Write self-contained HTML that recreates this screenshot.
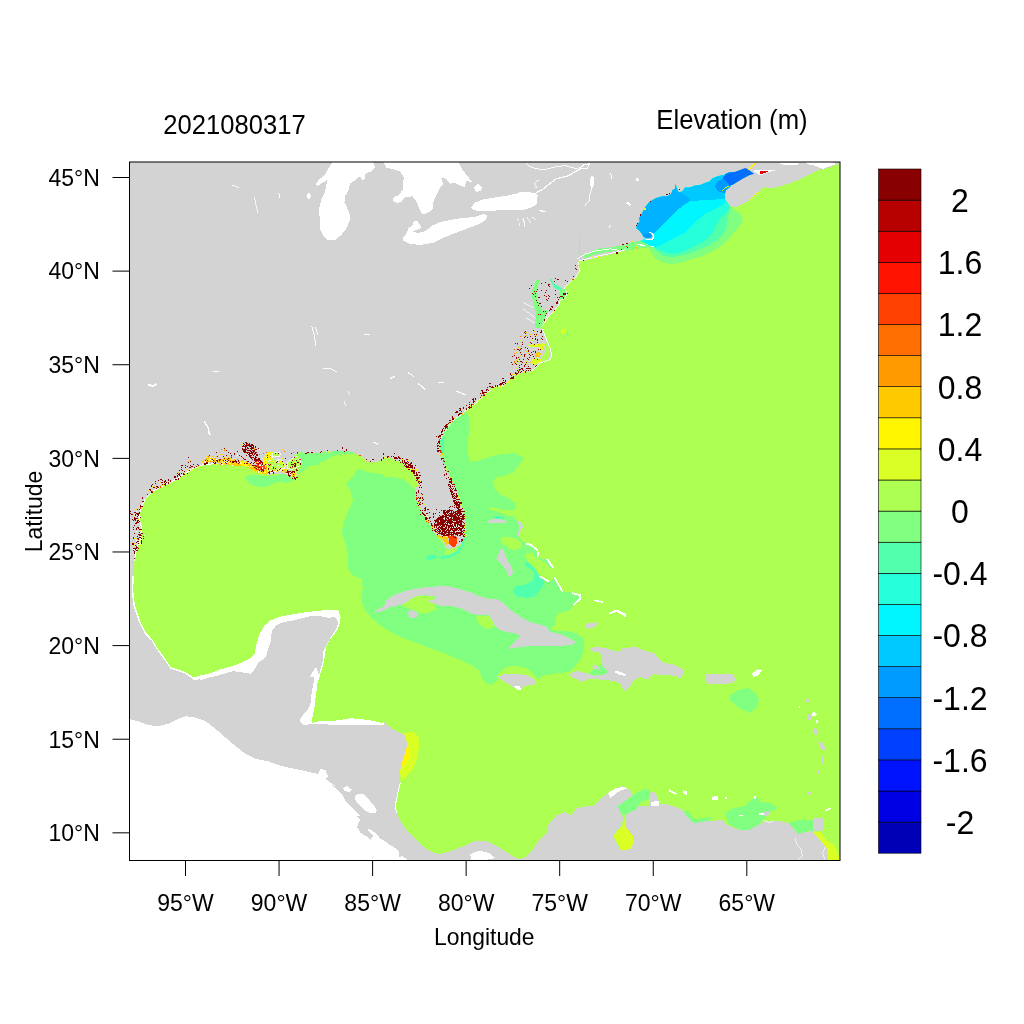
<!DOCTYPE html><html><head><meta charset="utf-8"><title>Elevation (m) 2021080317</title>
<style>html,body{margin:0;padding:0;background:#fff}svg{display:block}text{font-family:"Liberation Sans",sans-serif;fill:#000}</style></head><body>
<svg width="1024" height="1024" viewBox="0 0 1024 1024">
<rect width="1024" height="1024" fill="#fff"/>
<defs><clipPath id="cp"><rect x="129.5" y="162.0" width="710.5" height="698.5"/></clipPath></defs>
<g clip-path="url(#cp)" shape-rendering="crispEdges">
<rect x="129.5" y="162.0" width="710.5" height="698.5" fill="#D3D3D3"/>
<clipPath id="oc"><path d="M841.0 163.1L841.0 861.0L828.0 860.5L826.8 848.0L820.5 840.5L814.2 831.2L805.5 831.8L798.0 834.2L793.0 828.0L788.0 823.0L778.0 820.5L763.0 821.8L758.0 825.5L748.0 830.5L738.0 829.2L728.0 825.5L723.0 820.0L708.0 821.0L693.0 823.0L688.0 818.0L683.0 810.5L675.5 806.8L665.5 804.2L659.2 803.5L658.0 798.0L655.5 793.5L651.0 791.8L649.2 798.0L648.8 805.5L639.2 803.5L636.8 809.2L630.5 811.8L625.0 815.5L624.5 819.2L626.0 828.0L631.8 835.5L633.0 843.0L629.2 849.2L620.5 850.5L616.8 843.0L613.0 836.8L616.8 830.5L621.8 825.5L623.0 819.2L622.5 815.5L619.2 810.5L618.0 805.5L625.5 800.5L633.0 795.0L630.5 790.5L623.0 786.2L615.5 788.0L608.0 793.0L601.5 798.0L594.0 805.5L584.0 806.8L576.5 808.0L571.5 815.5L564.0 811.8L556.5 815.5L549.0 823.0L546.5 833.0L539.0 840.5L534.0 848.0L526.5 856.8L519.0 859.2L511.5 855.5L504.0 850.5L494.0 844.2L484.0 840.5L476.5 840.5L469.0 844.2L459.0 848.0L449.0 851.8L439.0 854.2L429.0 850.5L419.0 843.0L409.0 833.0L401.5 823.0L396.5 813.0L395.2 805.5L397.8 793.0L400.2 783.0L400.2 770.5L402.8 760.5L406.5 753.0L407.8 743.0L405.2 735.5L399.0 731.8L391.5 728.0L384.0 721.8L382.0 723.1L374.2 721.1L362.5 719.2L350.8 718.2L339.1 720.2L329.3 721.1L319.5 721.1L311.7 723.1L312.7 716.2L314.6 706.5L315.6 696.7L316.4 700.0L316.4 692.2L317.2 684.4L319.5 676.6L321.9 668.8L324.2 660.9L325.0 654.7L325.8 648.4L328.1 642.2L332.8 635.9L337.5 629.7L339.8 623.4L340.6 617.2L338.3 610.2L331.2 610.2L318.8 610.6L306.2 612.2L293.8 614.1L281.2 616.4L270.3 620.3L264.1 625.8L259.4 634.4L256.2 645.3L254.7 653.9L250.0 658.6L242.2 662.5L231.2 666.4L220.3 669.5L209.4 673.4L200.0 675.8L203.0 676.2L193.0 677.5L185.5 672.5L178.0 670.0L170.5 667.5L165.5 660.0L158.0 650.0L151.8 640.0L145.5 633.5L139.2 621.0L134.2 606.0L132.5 591.0L133.0 576.0L134.2 561.0L136.8 548.5L140.5 538.5L141.8 528.5L139.2 518.5L140.5 508.5L145.5 498.5L153.0 491.0L163.0 486.0L173.0 481.0L183.0 474.8L193.0 468.5L203.0 464.8L215.5 463.5L228.0 464.8L238.0 464.8L248.0 466.0L258.0 472.2L268.0 474.8L283.0 473.5L290.5 477.2L298.0 474.8L290.5 469.8L295.5 467.2L300.5 463.5L300.5 458.5L293.0 456.0L300.5 452.2L308.0 453.5L318.0 453.5L328.0 452.2L340.5 451.0L353.0 452.2L363.0 457.2L368.0 462.2L375.5 462.2L384.0 459.8L384.0 458.2L389.0 457.0L396.5 460.8L400.0 461.2L405.0 463.8L408.8 467.5L412.5 472.5L416.2 477.5L417.5 482.5L416.2 488.8L414.4 493.8L415.0 498.8L417.5 505.0L420.0 510.0L423.8 516.2L425.0 521.2L428.8 523.8L431.2 527.5L433.8 532.5L437.5 536.2L442.5 540.0L444.4 545.0L446.2 548.1L450.0 548.8L455.0 548.1L458.8 546.2L461.2 542.5L463.8 537.5L464.4 532.5L465.0 525.0L464.4 516.2L462.5 508.8L460.0 501.2L457.5 493.8L455.0 486.2L451.2 478.8L447.5 471.2L444.4 462.5L441.9 455.0L440.0 447.5L438.8 440.0L440.2 439.5L444.0 432.0L449.0 424.5L456.5 417.0L464.0 412.0L471.5 405.8L479.0 399.5L486.5 392.0L494.0 387.0L504.0 385.8L506.5 383.2L514.0 375.8L519.5 373.4L525.8 372.3L531.2 371.1L535.9 367.2L540.6 362.5L545.3 361.3L548.4 360.2L550.8 357.8L551.3 354.7L550.8 350.0L548.8 345.3L546.9 340.6L544.5 334.4L542.2 328.9L541.2 327.3L543.8 323.4L547.5 317.8L553.1 312.1L558.8 304.6L560.6 299.9L565.3 298.1L567.2 293.4L564.4 287.8L570.0 282.1L575.6 277.4L579.4 270.9L578.4 261.5L585.0 260.6L596.3 257.8L607.5 254.9L618.8 252.1L630.0 249.3L641.3 245.6L620.0 246.2L625.0 245.0L631.2 242.5L638.8 241.2L642.5 240.0L645.0 238.8L654.0 239.0L654.2 235.0L651.9 232.2L649.0 232.0L651.0 234.0L652.2 236.5L650.6 237.8L645.6 238.0L643.1 236.5L641.9 234.0L640.0 231.2L636.2 228.1L637.5 223.8L640.0 221.2L638.8 218.8L642.5 212.5L645.0 207.5L648.8 202.5L652.5 200.0L657.5 197.5L662.5 196.2L667.5 196.2L671.2 193.8L672.5 190.0L675.0 188.8L675.6 183.8L676.9 188.8L678.8 192.5L682.5 191.2L685.0 187.5L690.0 187.5L695.0 185.6L700.0 185.0L705.0 183.1L710.0 181.2L711.9 178.8L717.5 176.2L723.8 175.0L728.8 172.5L735.0 171.9L740.0 170.0L745.0 168.1L747.8 169.1L750.9 171.4L754.1 173.8L749.4 175.3L743.1 178.4L736.9 182.3L730.6 186.2L725.9 190.2L724.7 194.8L725.9 200.3L729.1 205.0L733.8 207.3L736.9 206.6L743.1 203.4L749.4 200.3L754.1 196.4L758.8 192.5L761.9 188.6L766.6 187.0L771.2 188.6L777.5 187.0L783.8 185.5L790.0 183.1L796.2 180.8L802.5 177.7L808.8 174.5L815.0 172.2L819.7 169.1L822.8 169.8L829.1 167.5L835.3 165.2L840.0 163.1Z"/></clipPath>
<g fill="#FFFFFF"><path d="M333.8 160.0L327.5 170.0L325.0 175.0L320.0 178.8L315.5 183.8L317.0 186.2L323.8 182.0L327.5 179.5L326.2 185.0L325.0 192.5L321.2 200.0L318.8 210.0L320.0 220.0L320.5 230.0L323.8 237.0L328.8 240.5L335.0 240.0L341.2 235.0L346.2 228.8L349.5 221.2L349.5 213.8L347.0 207.5L344.5 202.5L345.0 196.2L348.8 190.0L350.0 183.8L356.2 179.5L360.0 176.2L362.0 180.0L364.5 179.5L365.5 173.8L371.2 171.2L375.0 167.5L372.5 160.0Z"/><path d="M382.5 160.0L386.2 167.5L400.0 171.2L403.8 177.5L402.5 190.0L398.8 195.0L393.8 197.0L392.5 200.0L396.2 203.0L401.2 202.0L405.0 197.5L412.5 196.2L416.2 201.2L420.0 210.0L422.0 214.5L427.5 213.0L432.5 209.5L433.8 200.0L438.8 190.0L443.0 183.8L441.2 177.5L446.2 178.8L450.0 183.8L453.8 182.5L458.8 185.0L465.0 187.0L466.2 181.2L472.5 182.0L467.5 176.2L462.5 170.0L457.5 160.0Z"/><path d="M402.5 238.8L406.2 233.8L408.8 227.5L412.5 225.5L413.8 221.2L417.5 221.2L420.0 224.5L421.2 228.0L417.5 230.0L412.5 231.2L417.5 233.0L425.0 231.2L432.5 225.5L440.0 222.0L450.0 220.0L462.5 218.0L475.0 217.0L483.8 213.8L487.0 215.5L486.2 219.5L480.0 223.8L470.0 227.5L460.0 231.2L450.0 235.0L440.0 239.5L432.5 243.0L420.0 245.0L410.0 243.8L402.5 240.0Z"/><path d="M471.2 207.5L475.0 202.5L482.5 199.5L495.0 197.5L507.5 195.5L520.0 193.0L530.0 192.5L536.2 194.5L537.0 200.0L536.2 205.0L530.0 208.0L520.0 209.5L510.0 210.0L500.0 210.0L490.0 211.2L480.0 211.2L473.8 210.0Z"/><path d="M473.8 187.5L478.0 183.8L482.0 187.0L481.2 190.5L476.2 192.0Z"/><path d="M307.0 193.8L309.5 192.5L311.0 196.2L309.0 199.5L307.0 197.5Z"/></g>
<g fill="#FFFFFF"><path d="M128.0 718.8L138.0 721.2L148.0 725.0L158.0 726.2L168.0 723.8L178.0 718.8L185.5 716.2L195.5 717.5L205.5 721.2L215.5 728.8L225.5 737.5L235.5 746.2L245.5 753.8L255.5 758.8L268.0 761.2L278.0 765.0L288.0 767.5L300.5 770.0L310.5 772.5L318.0 773.8L320.5 768.8L325.5 770.0L328.0 776.2L325.5 778.8L335.5 786.2L330.0 784.4L336.2 788.3L341.7 793.8L344.8 800.0L350.3 806.2L355.8 811.7L359.7 815.6L356.6 816.4L360.5 819.5L358.1 823.4L357.3 827.3L360.5 832.8L365.9 835.9L370.6 839.8L373.0 835.9L369.1 832.0L367.5 828.1L372.2 830.5L376.9 834.4L380.0 838.3L383.9 840.6L389.4 844.5L395.6 848.4L399.5 852.3L398.8 857.0L401.9 856.2L406.6 858.6L408.1 862.5L100.0 862.0L100.0 718.0Z"/><path d="M470.2 854.2L479.0 850.5L489.0 853.0L495.2 858.0L484.0 860.5L471.5 860.5Z"/><path d="M355.0 796.1L358.9 793.4L363.6 794.5L369.1 800.0L374.5 806.2L376.9 810.9L375.3 813.3L369.8 813.3L363.6 809.4L358.1 803.9L355.3 800.0Z"/><path d="M342.5 788.3L347.2 786.2L351.9 789.8L348.8 792.2L344.8 790.9Z"/></g>
<g fill="#FFFFFF"><path d="M200.0 668.8L246.9 651.6L253.1 623.4L278.1 609.4L340.6 604.7L348.4 631.2L329.7 662.5L325.0 700.0L310.9 700.0L311.7 692.2L313.3 684.4L314.1 677.3L310.2 676.6L312.5 671.9L316.4 667.2L318.8 675.0L321.1 667.2L323.4 659.4L323.4 651.6L325.8 646.9L328.9 640.6L332.8 634.4L336.7 628.1L338.3 621.9L334.4 616.4L329.7 618.0L321.9 616.4L312.5 615.6L303.1 618.0L293.8 620.3L284.4 621.9L276.6 625.0L272.7 629.7L271.1 635.9L270.3 643.8L267.2 650.0L266.4 656.2L260.9 659.4L253.1 664.1L248.4 668.0L253.1 667.2L254.7 670.3L251.6 673.4L245.3 673.4L240.6 671.9L231.2 671.1L220.3 673.4L209.4 677.3L200.0 680.5Z"/><path d="M270.5 640.0L268.0 650.0L265.5 657.5L258.0 662.5L255.5 667.5L250.5 673.8L243.0 672.5L240.5 669.5L228.0 672.5L215.5 676.2L203.0 678.8L194.2 680.0L185.5 673.8L178.0 671.2L170.5 668.8L165.5 661.2L158.0 651.2L151.8 641.2L178.0 640.0Z"/><path d="M311.8 699.0L309.2 707.5L303.0 715.0L299.2 721.2L303.0 725.0L311.8 724.2L328.0 724.5L348.0 725.0L365.5 724.5L384.0 725.0L384.0 715.0L328.0 690.0Z"/></g>
<g fill="#ADFF52"><path d="M841.0 163.1L841.0 861.0L828.0 860.5L826.8 848.0L820.5 840.5L814.2 831.2L805.5 831.8L798.0 834.2L793.0 828.0L788.0 823.0L778.0 820.5L763.0 821.8L758.0 825.5L748.0 830.5L738.0 829.2L728.0 825.5L723.0 820.0L708.0 821.0L693.0 823.0L688.0 818.0L683.0 810.5L675.5 806.8L665.5 804.2L659.2 803.5L658.0 798.0L655.5 793.5L651.0 791.8L649.2 798.0L648.8 805.5L639.2 803.5L636.8 809.2L630.5 811.8L625.0 815.5L624.5 819.2L626.0 828.0L631.8 835.5L633.0 843.0L629.2 849.2L620.5 850.5L616.8 843.0L613.0 836.8L616.8 830.5L621.8 825.5L623.0 819.2L622.5 815.5L619.2 810.5L618.0 805.5L625.5 800.5L633.0 795.0L630.5 790.5L623.0 786.2L615.5 788.0L608.0 793.0L601.5 798.0L594.0 805.5L584.0 806.8L576.5 808.0L571.5 815.5L564.0 811.8L556.5 815.5L549.0 823.0L546.5 833.0L539.0 840.5L534.0 848.0L526.5 856.8L519.0 859.2L511.5 855.5L504.0 850.5L494.0 844.2L484.0 840.5L476.5 840.5L469.0 844.2L459.0 848.0L449.0 851.8L439.0 854.2L429.0 850.5L419.0 843.0L409.0 833.0L401.5 823.0L396.5 813.0L395.2 805.5L397.8 793.0L400.2 783.0L400.2 770.5L402.8 760.5L406.5 753.0L407.8 743.0L405.2 735.5L399.0 731.8L391.5 728.0L384.0 721.8L382.0 723.1L374.2 721.1L362.5 719.2L350.8 718.2L339.1 720.2L329.3 721.1L319.5 721.1L311.7 723.1L312.7 716.2L314.6 706.5L315.6 696.7L316.4 700.0L316.4 692.2L317.2 684.4L319.5 676.6L321.9 668.8L324.2 660.9L325.0 654.7L325.8 648.4L328.1 642.2L332.8 635.9L337.5 629.7L339.8 623.4L340.6 617.2L338.3 610.2L331.2 610.2L318.8 610.6L306.2 612.2L293.8 614.1L281.2 616.4L270.3 620.3L264.1 625.8L259.4 634.4L256.2 645.3L254.7 653.9L250.0 658.6L242.2 662.5L231.2 666.4L220.3 669.5L209.4 673.4L200.0 675.8L203.0 676.2L193.0 677.5L185.5 672.5L178.0 670.0L170.5 667.5L165.5 660.0L158.0 650.0L151.8 640.0L145.5 633.5L139.2 621.0L134.2 606.0L132.5 591.0L133.0 576.0L134.2 561.0L136.8 548.5L140.5 538.5L141.8 528.5L139.2 518.5L140.5 508.5L145.5 498.5L153.0 491.0L163.0 486.0L173.0 481.0L183.0 474.8L193.0 468.5L203.0 464.8L215.5 463.5L228.0 464.8L238.0 464.8L248.0 466.0L258.0 472.2L268.0 474.8L283.0 473.5L290.5 477.2L298.0 474.8L290.5 469.8L295.5 467.2L300.5 463.5L300.5 458.5L293.0 456.0L300.5 452.2L308.0 453.5L318.0 453.5L328.0 452.2L340.5 451.0L353.0 452.2L363.0 457.2L368.0 462.2L375.5 462.2L384.0 459.8L384.0 458.2L389.0 457.0L396.5 460.8L400.0 461.2L405.0 463.8L408.8 467.5L412.5 472.5L416.2 477.5L417.5 482.5L416.2 488.8L414.4 493.8L415.0 498.8L417.5 505.0L420.0 510.0L423.8 516.2L425.0 521.2L428.8 523.8L431.2 527.5L433.8 532.5L437.5 536.2L442.5 540.0L444.4 545.0L446.2 548.1L450.0 548.8L455.0 548.1L458.8 546.2L461.2 542.5L463.8 537.5L464.4 532.5L465.0 525.0L464.4 516.2L462.5 508.8L460.0 501.2L457.5 493.8L455.0 486.2L451.2 478.8L447.5 471.2L444.4 462.5L441.9 455.0L440.0 447.5L438.8 440.0L440.2 439.5L444.0 432.0L449.0 424.5L456.5 417.0L464.0 412.0L471.5 405.8L479.0 399.5L486.5 392.0L494.0 387.0L504.0 385.8L506.5 383.2L514.0 375.8L519.5 373.4L525.8 372.3L531.2 371.1L535.9 367.2L540.6 362.5L545.3 361.3L548.4 360.2L550.8 357.8L551.3 354.7L550.8 350.0L548.8 345.3L546.9 340.6L544.5 334.4L542.2 328.9L541.2 327.3L543.8 323.4L547.5 317.8L553.1 312.1L558.8 304.6L560.6 299.9L565.3 298.1L567.2 293.4L564.4 287.8L570.0 282.1L575.6 277.4L579.4 270.9L578.4 261.5L585.0 260.6L596.3 257.8L607.5 254.9L618.8 252.1L630.0 249.3L641.3 245.6L620.0 246.2L625.0 245.0L631.2 242.5L638.8 241.2L642.5 240.0L645.0 238.8L654.0 239.0L654.2 235.0L651.9 232.2L649.0 232.0L651.0 234.0L652.2 236.5L650.6 237.8L645.6 238.0L643.1 236.5L641.9 234.0L640.0 231.2L636.2 228.1L637.5 223.8L640.0 221.2L638.8 218.8L642.5 212.5L645.0 207.5L648.8 202.5L652.5 200.0L657.5 197.5L662.5 196.2L667.5 196.2L671.2 193.8L672.5 190.0L675.0 188.8L675.6 183.8L676.9 188.8L678.8 192.5L682.5 191.2L685.0 187.5L690.0 187.5L695.0 185.6L700.0 185.0L705.0 183.1L710.0 181.2L711.9 178.8L717.5 176.2L723.8 175.0L728.8 172.5L735.0 171.9L740.0 170.0L745.0 168.1L747.8 169.1L750.9 171.4L754.1 173.8L749.4 175.3L743.1 178.4L736.9 182.3L730.6 186.2L725.9 190.2L724.7 194.8L725.9 200.3L729.1 205.0L733.8 207.3L736.9 206.6L743.1 203.4L749.4 200.3L754.1 196.4L758.8 192.5L761.9 188.6L766.6 187.0L771.2 188.6L777.5 187.0L783.8 185.5L790.0 183.1L796.2 180.8L802.5 177.7L808.8 174.5L815.0 172.2L819.7 169.1L822.8 169.8L829.1 167.5L835.3 165.2L840.0 163.1Z"/></g>
<g fill="#80FF80"><path d="M300.5 452.2L300.5 457.2L308.0 463.5L323.0 462.2L333.0 456.0L345.5 453.5L354.2 453.5L353.0 451.8L340.5 450.5L328.0 451.8L318.0 453.0L308.0 453.0Z"/><path d="M358.0 468.5L353.0 476.0L345.5 483.5L350.5 491.0L353.0 501.0L348.0 511.0L343.0 523.5L341.8 533.5L345.5 543.5L348.0 556.0L348.0 568.5L353.0 576.0L361.8 578.5L363.0 591.0L362.5 589.3L361.5 601.0L365.4 610.8L372.3 618.6L382.0 626.4L391.8 632.3L403.5 638.1L417.2 643.0L428.9 647.9L440.6 651.8L452.3 656.7L464.1 661.6L473.8 666.4L479.7 671.3L482.6 679.1L487.5 684.0L495.3 685.0L491.5 684.2L497.8 680.5L496.5 675.5L504.0 668.0L514.0 665.5L526.5 668.0L534.0 674.2L537.8 679.2L544.0 675.5L559.0 673.0L570.2 671.8L581.5 658.0L584.0 648.0L581.5 638.0L576.5 633.0L564.0 630.5L554.0 630.5L583.3 650.0L584.1 643.9L582.5 636.9L576.2 640.0L570.0 636.1L563.8 633.0L554.4 630.6L549.7 629.1L554.4 625.9L555.2 619.7L557.5 613.4L563.8 611.9L570.0 610.3L573.1 605.6L576.2 603.3L580.9 599.4L581.7 594.7L576.2 593.1L570.0 592.3L563.8 591.6L560.6 586.9L557.5 582.2L554.4 577.5L549.7 581.4L546.6 580.6L540.3 576.7L535.6 571.2L530.9 565.0L527.0 560.3L525.5 555.6L527.8 552.5L532.5 553.3L535.6 557.2L541.9 560.3L546.6 564.2L549.7 568.1L554.4 568.1L551.2 563.4L548.1 559.5L543.4 558.8L537.2 558.0L538.8 554.1L537.2 548.6L530.9 543.9L526.2 543.1L521.6 540.0L518.4 536.1L520.0 532.2L523.1 525.9L521.6 522.0L516.9 520.5L513.8 516.6L505.9 515.0L498.1 511.9L490.3 509.5L488.8 506.4L493.4 507.2L501.2 509.5L509.1 510.3L514.5 509.5L514.5 503.3L509.1 498.6L501.2 494.7L495.8 490.0L515.2 508.2L514.0 502.0L509.0 499.5L501.5 495.8L495.2 489.5L492.8 482.0L496.5 477.0L504.0 475.8L514.0 472.0L520.2 463.2L524.0 458.2L520.2 455.8L514.0 453.2L501.5 454.0L489.0 457.0L477.8 460.8L470.2 462.0L467.8 452.0L467.8 439.5L470.2 427.0L469.0 417.0L464.0 412.0L456.5 417.0L449.0 424.5L444.0 432.0L440.2 439.5L440.2 449.5L442.8 459.5L446.5 469.5L451.5 479.5L455.2 487.0L459.0 497.0L462.8 507.0L465.2 517.0L465.2 527.0L464.0 537.0L461.5 544.5L456.5 548.2L446.5 549.5L444.0 544.5L437.8 538.2L434.0 532.0L430.2 524.5L425.2 518.2L421.5 512.0L417.8 504.5L415.2 497.0L416.0 490.8L412.8 487.0L404.0 479.5L394.0 477.0L384.0 477.0L384.0 474.8L378.0 473.5L368.0 472.2L358.0 468.5Z"/></g>
<g fill="#ADFF52"><path d="M401.6 605.9L409.4 600.0L415.2 596.1L425.0 595.5L434.4 596.7L434.4 599.1L427.3 601.0L434.8 604.5L436.7 608.8L428.9 612.7L421.1 613.7L417.2 611.8L411.3 608.8L405.5 606.9Z"/><path d="M475.8 616.6L487.5 615.7L493.4 620.5L494.3 627.4L487.5 629.3L480.7 625.4L476.8 620.5Z"/><path d="M475.2 616.8L489.0 615.5L494.0 623.0L491.5 628.0L484.0 625.5L477.8 620.5Z"/><path d="M501.2 536.9L510.6 536.9L520.0 540.0L521.6 547.8L513.8 550.2L505.9 546.2L501.2 543.1Z"/><path d="M638.0 805.5L643.0 801.0L649.2 800.0L648.8 805.5Z"/></g>
<g fill="#52FFAD"><path d="M513.0 590.0L516.9 586.1L524.7 584.5L530.9 582.2L534.1 577.5L534.1 572.8L529.4 568.1L524.7 565.8L525.5 561.9L530.2 563.4L535.6 569.7L540.3 576.7L544.2 580.6L543.4 585.3L538.8 591.6L534.1 597.0L526.2 597.8L518.4 597.0L513.8 593.9Z"/><path d="M494.2 516.9L499.7 515.8L505.9 518.1L501.2 519.4L495.0 519.1Z"/></g>
<g fill="#D3D3D3"><path d="M374.2 610.8L378.1 608.8L384.0 606.9L385.9 601.0L391.8 596.1L401.6 592.2L413.3 589.3L425.0 587.3L436.7 586.4L448.4 586.4L460.2 589.3L469.9 592.2L479.7 596.1L489.5 599.1L496.6 599.4L502.8 602.5L509.1 608.8L515.3 613.4L521.6 617.3L527.8 621.2L535.6 623.6L543.4 625.2L548.1 627.5L548.9 631.4L555.2 633.0L563.8 635.3L571.6 639.2L576.2 641.6L573.1 644.7L565.3 645.5L557.5 646.2L548.1 646.2L538.8 645.5L529.4 646.2L520.0 647.0L510.6 648.6L509.1 647.8L515.3 641.6L520.8 636.1L515.3 633.0L507.5 632.2L501.2 630.6L495.0 625.9L491.9 619.7L488.8 615.0L479.4 615.0L470.0 613.4L468.0 611.8L460.2 607.9L450.4 605.9L440.6 605.9L434.8 603.9L427.0 601.0L434.8 599.1L434.8 596.1L425.0 595.2L415.2 596.1L409.4 600.0L403.5 603.9L395.7 605.9L387.9 607.9L382.0 610.8L377.1 612.3Z"/><path d="M589.7 649.8L593.6 647.5L600.6 647.2L606.9 648.3L613.1 650.6L620.2 651.4L622.5 648.3L628.8 647.5L636.6 647.2L642.8 649.8L649.1 652.2L654.5 653.0L657.7 657.7L661.6 661.6L667.8 663.9L674.1 664.7L678.8 667.0L682.7 669.4L684.7 672.2L681.9 676.4L679.5 678.8L676.4 676.4L669.4 674.8L661.6 674.8L653.8 674.1L649.1 678.8L644.4 679.5L641.2 676.4L636.6 678.8L632.7 681.9L629.5 687.3L624.8 691.2L622.5 688.1L620.2 683.4L614.7 681.1L606.9 680.3L599.1 679.5L591.2 678.8L585.0 680.3L581.1 681.9L577.2 679.5L571.7 677.2L569.7 674.8L572.5 671.7L578.8 671.2L586.6 673.3L594.4 675.6L602.2 674.8L608.4 672.5L605.3 669.4L602.2 664.7L601.4 660.0L602.2 655.3L598.3 652.2L592.8 651.4Z"/><path d="M497.8 676.8L504.0 674.2L516.5 673.5L526.5 675.5L534.0 679.2L536.5 683.0L531.5 685.0L524.0 686.0L520.2 690.0L514.0 688.0L509.0 684.2L502.8 680.5Z"/><path d="M705.5 674.2L718.0 673.5L733.0 674.2L735.5 679.2L733.0 683.0L720.5 684.2L708.0 684.2L705.0 679.2Z"/><path d="M500.5 549.4L503.6 549.1L505.2 555.6L508.3 561.9L511.4 566.6L513.0 572.0L511.4 575.6L508.3 575.6L506.7 571.2L503.6 566.6L499.7 561.9L495.8 558.8L498.1 554.8Z"/><path d="M584.8 625.2L588.8 623.1L595.0 622.5L597.3 621.2L596.9 625.2L593.4 627.5L587.2 628.8Z"/><path d="M407.4 612.7L411.3 609.8L416.2 611.2L418.2 615.7L414.3 618.2L409.4 617.6Z"/><path d="M813.0 818.5L823.0 817.5L822.5 830.5L814.2 831.2Z"/><path d="M650.0 793.0L654.2 791.8L657.5 798.0L658.8 803.5L649.2 805.5L648.8 799.2Z"/><path d="M592.0 666.2L595.2 665.3L600.3 667.8L599.1 669.7L594.4 669.1Z"/><path d="M516.9 520.5L521.6 522.0L523.1 526.7L520.0 532.2L518.4 536.1L516.9 534.5L518.8 529.1L518.8 524.7Z"/><path d="M487.2 521.2L493.4 518.9L501.2 519.4L506.7 520.8L505.9 522.8L498.1 522.5L491.9 523.6L488.0 523.1Z"/></g>
<g fill="#FFFFFF"><path d="M751.8 673.5L758.0 669.2L761.8 670.5L758.0 676.0L753.0 676.8Z"/><path d="M514.0 686.0L520.2 686.0L521.0 690.0L517.8 690.5Z"/><path d="M525.5 542.3L530.9 543.9L538.0 549.1L539.1 555.6L537.5 558.0L536.9 551.7L531.7 546.6L526.2 544.7Z"/><path d="M545.8 558.4L548.1 558.8L554.4 567.8L552.0 568.1Z"/><path d="M553.6 577.5L555.2 577.2L563.4 591.2L561.9 591.9Z"/><path d="M538.8 576.7L540.6 575.9L550.0 580.9L548.1 582.2Z"/><path d="M572.3 592.3L581.2 594.4L581.2 599.4L573.9 605.3L573.1 604.1L579.4 598.6L579.4 595.9L572.3 593.9Z"/><path d="M594.2 599.7L602.8 601.2L602.5 602.8L594.2 601.2Z"/><path d="M609.1 612.7L616.9 609.5L626.2 614.2L625.5 617.3L616.9 611.9L609.8 614.2Z"/><path d="M711.8 796.8L717.5 796.0L717.5 800.0L711.8 800.0Z"/><path d="M669.2 789.2L676.8 793.5L675.5 795.0L668.5 791.0Z"/><path d="M683.0 790.0L687.5 791.8L686.8 795.0L683.5 793.0Z"/><path d="M650.5 801.8L658.8 801.0L659.2 805.5L650.5 806.0Z"/><path d="M608.0 793.0L615.5 788.5L623.0 786.8L626.8 788.5L618.0 791.8L610.5 798.0Z"/><path d="M804.1 161.2L830.6 161.2L836.1 164.1L829.1 166.4L822.8 168.8L819.7 168.0L815.0 165.6L808.8 164.7Z"/><path d="M777.5 162.5L799.4 162.5L797.8 164.7L783.8 164.7Z"/></g>
<g fill="#80FF80"><path d="M729.2 695.5L738.0 690.5L748.0 688.0L755.5 693.0L759.2 699.2L756.8 706.8L750.5 712.5L743.0 710.5L735.5 705.5L730.5 700.5Z"/><path d="M618.0 805.5L625.5 800.5L633.0 795.5L638.0 791.8L645.5 788.0L650.5 791.8L649.2 799.2L643.0 801.0L638.0 805.5L636.8 809.2L630.5 811.8L623.0 815.5L619.2 810.5Z"/><path d="M725.5 813.0L733.0 808.0L743.0 806.8L750.5 800.5L755.5 795.5L760.5 801.8L770.5 803.0L778.0 808.0L770.5 811.8L763.0 820.5L758.0 825.5L748.0 830.5L738.0 829.2L728.0 824.2Z"/><path d="M683.0 810.5L688.0 818.0L693.0 823.0L708.0 821.0L713.0 816.8L703.0 818.0L694.2 819.2L689.2 811.8Z"/><path d="M788.0 823.0L798.0 820.5L813.0 820.0L813.5 830.5L805.5 831.8L798.0 834.2L793.0 828.0Z"/><path d="M620.0 246.2L625.0 245.0L631.2 242.5L638.8 241.2L642.5 240.0L645.0 245.0L643.8 247.5L635.0 249.4L627.5 250.6L620.0 250.0Z"/><path d="M536.3 328.1L540.9 328.1L541.9 321.5L542.8 312.1L540.9 306.5L537.2 299.0L536.3 291.5L538.1 285.9L540.0 280.3L536.3 280.3L533.4 286.8L531.6 292.4L532.5 299.0L534.4 306.5L536.3 314.0L535.3 321.5Z"/><path d="M582.2 255.9L592.5 250.6L600.0 248.0L611.3 247.4L628.1 244.3L639.4 241.8L643.1 243.7L639.4 248.0L630.0 249.3L628.1 247.4L618.8 250.3L607.5 252.1L592.5 254.9L585.0 258.7Z"/><path d="M560.6 299.9L565.3 298.1L567.2 293.4L564.4 288.7L560.6 289.6L558.8 294.3Z"/></g>
<g fill="#52FFAD"><path d="M560.6 290.0L555.0 288.7L551.3 283.1L549.0 278.0L551.3 278.8L554.1 284.0L559.7 286.8L562.5 288.7Z"/></g>
<g fill="#DAFF25"><path d="M404.0 733.0L412.8 731.8L419.0 738.0L419.0 748.0L416.5 760.5L411.5 770.5L405.2 778.0L401.0 781.8L400.2 770.5L402.8 760.5L406.5 750.5L406.5 740.5Z"/><path d="M624.0 819.2L626.5 828.0L632.8 835.5L634.0 843.0L630.2 849.2L621.5 850.5L617.8 843.0L614.0 836.8L617.8 830.5L622.8 825.5Z"/><path d="M811.8 831.8L820.5 831.8L825.5 839.2L833.0 844.2L838.0 851.8L839.2 860.5L828.0 860.5L826.8 848.0L820.5 840.5L815.5 835.5Z"/></g>
<g fill="#FFF600"><path d="M407.0 744.2L410.2 750.5L409.0 758.0L405.2 764.2L401.0 768.0L402.8 759.2L406.0 751.8Z"/></g>
<g fill="#80FF80" clip-path="url(#oc)"><path d="M637.5 247.5L648.8 248.1L651.2 252.5L656.2 258.8L663.8 263.1L671.2 264.0L680.0 263.1L688.8 260.0L697.5 257.5L705.0 255.0L715.0 250.0L722.5 245.0L730.0 237.5L736.2 230.0L741.2 223.8L743.1 218.8L741.2 215.0L736.2 211.2L732.5 208.1L728.8 203.8L725.0 198.8L742.5 160.0L630.0 160.0L617.5 230.0Z"/></g>
<g fill="#52FFAD" clip-path="url(#oc)"><path d="M653.8 246.9L656.2 250.0L661.2 255.0L668.8 256.9L676.2 256.5L683.8 255.0L692.5 252.5L701.2 248.8L710.0 245.0L717.5 240.0L723.8 233.8L726.2 227.5L727.5 220.0L728.8 213.8L730.0 206.9L728.8 203.8L725.0 198.8L742.5 160.0L630.0 160.0L617.5 230.0L642.5 242.5Z"/></g>
<g fill="#25FFDA" clip-path="url(#oc)"><path d="M648.8 245.0L653.8 246.9L658.8 250.0L666.2 252.5L672.5 253.8L680.0 252.5L687.5 250.0L695.0 246.2L702.5 242.5L708.8 237.5L713.8 231.2L716.2 225.0L720.0 218.8L725.0 213.8L728.8 210.0L730.0 206.2L728.8 203.8L725.0 198.8L742.5 160.0L630.0 160.0L617.5 230.0L642.5 242.5Z"/></g>
<g fill="#00F6FF" clip-path="url(#oc)"><path d="M645.0 242.5L648.8 245.0L653.8 246.9L658.8 246.2L663.8 243.8L670.0 240.0L677.5 236.2L685.0 232.5L691.2 226.2L697.5 220.0L705.0 213.8L712.5 210.0L717.5 207.5L722.5 205.0L726.2 201.9L724.4 199.0L742.5 160.0L630.0 160.0L617.5 230.0L642.5 240.0Z"/></g>
<g fill="#00B2FF" clip-path="url(#oc)"><path d="M642.5 238.8L654.4 240.0L654.4 236.9L653.1 235.0L658.8 228.8L665.0 222.5L671.2 216.2L677.5 210.0L683.8 205.0L690.0 201.2L690.0 198.8L680.0 191.9L667.5 167.5L630.0 167.5L617.5 230.0Z"/></g>
<g fill="#00C9FF" clip-path="url(#oc)"><path d="M680.0 191.9L690.0 198.8L690.0 201.2L697.5 200.6L707.5 200.0L717.5 199.4L724.4 199.0L742.5 160.0L667.5 167.5Z"/></g>
<g fill="#009BFF" clip-path="url(#oc)"><path d="M715.0 186.2L717.5 191.2L722.5 192.5L725.0 193.1L731.2 191.9L731.2 185.0L726.2 181.2L722.5 178.8L717.5 181.2Z"/><path d="M642.5 233.8L648.8 232.5L653.1 235.0L654.4 236.9L653.8 238.8L648.8 238.8L644.4 236.9Z"/></g>
<g fill="#006EFF" clip-path="url(#oc)"><path d="M722.5 178.8L726.2 181.2L729.4 185.2L738.8 185.6L755.0 177.5L755.0 160.0L730.0 167.5Z"/></g>
<g fill="#52FFAD" clip-path="url(#oc)"><path d="M425.0 557.5L431.2 554.4L437.5 555.0L435.0 558.8L428.8 560.0Z"/><path d="M437.5 558.1L443.8 558.8L452.5 556.9L458.8 552.5L462.5 547.5L465.0 540.0L466.0 537.5L464.0 538.1L461.2 546.2L456.2 551.2L450.0 554.4L443.8 556.2L438.8 556.9Z"/><path d="M440.0 437.5L444.0 437.5L444.5 447.5L443.2 455.0L441.5 450.0Z"/></g>
<g fill="#ADFF52" clip-path="url(#oc)"><path d="M445.0 550.0L450.0 549.4L456.2 548.8L458.8 547.5L456.2 551.2L450.0 554.4L445.0 555.6Z"/></g>
<g fill="#890000"><path d="M435.0 521.2L437.5 517.5L442.5 515.0L443.1 510.6L450.0 509.4L455.0 511.2L458.8 510.0L461.2 513.8L464.4 516.2L465.0 525.0L464.4 532.5L462.5 535.0L458.8 536.2L455.0 535.0L450.0 535.6L445.0 536.2L441.2 535.0L437.5 533.1L435.0 530.0L433.8 525.0Z"/><path d="M449.4 481.2L451.2 487.5L453.8 493.8L456.9 500.0L460.0 507.5L461.2 513.8L458.8 510.0L456.2 507.5L453.8 502.5L451.9 496.2L450.0 490.0L448.1 485.0Z"/><path d="M402.5 461.9L406.2 462.5L411.2 465.0L415.0 471.2L418.8 477.5L418.1 481.2L415.0 476.2L411.9 472.5L407.5 468.8L404.4 465.6Z"/></g>
<g fill="#FF4000"><path d="M448.1 535.6L452.5 535.0L457.5 536.9L456.9 541.2L456.2 546.2L452.5 546.9L449.4 543.8Z"/></g>
<g fill="#FFC900"><path d="M437.5 535.0L442.5 536.2L448.1 536.9L448.8 543.8L446.2 545.0L443.1 540.0Z"/></g>
<g fill="#80FF80" clip-path="url(#oc)"><path d="M295.8 455.2L300.8 453.4L307.0 454.0L320.0 453.4L320.0 465.2L312.0 465.2L307.0 467.8L303.2 471.5L298.2 474.0L300.8 467.8L302.0 461.5L299.5 456.5Z"/><path d="M245.1 476.5L250.8 474.6L259.5 475.2L267.0 476.5L274.5 475.9L282.0 473.4L288.2 474.6L292.0 477.8L297.0 479.0L292.0 481.5L287.0 482.8L279.5 482.1L272.0 484.0L267.0 486.5L259.5 487.1L252.0 485.2L247.0 481.5Z"/></g>
<g fill="#FFC900"><path d="M202.0 461.5L207.0 457.8L212.0 456.5L217.0 459.0L224.5 458.4L232.0 459.6L238.2 461.5L242.0 460.2L247.0 461.5L252.0 465.2L257.0 466.5L262.0 461.5L265.8 455.2L269.5 451.5L273.2 452.1L272.0 456.5L274.5 460.2L279.5 459.6L283.2 461.5L285.8 465.2L284.5 467.8L287.0 470.2L292.0 471.5L295.8 474.0L293.2 477.8L289.5 474.0L284.5 472.8L279.5 470.2L274.5 471.5L269.5 472.8L264.5 474.0L259.5 473.4L254.5 471.5L249.5 467.8L244.5 465.9L239.5 465.9L234.5 465.9L229.5 465.2L222.0 463.4L214.5 462.1L207.0 462.8Z"/></g>
<g fill="#FFF600"><path d="M262.0 461.5L265.8 455.2L269.5 451.5L273.2 452.1L272.0 456.5L267.0 461.5L267.0 466.5L263.2 465.2Z"/><path d="M239.5 461.5L244.5 460.9L248.2 464.0L247.0 466.5L242.0 465.9Z"/><path d="M204.5 460.2L209.5 457.8L214.5 459.6L210.8 462.1Z"/></g>
<g fill="#ADFF52"><path d="M272.0 453.4L277.0 452.1L280.8 453.4L279.5 455.9L274.5 456.8L272.0 455.2Z"/><path d="M287.0 462.8L292.0 459.0L297.0 456.5L300.8 461.5L299.5 465.2L295.8 468.4L290.8 469.6L287.0 467.8Z"/></g>
<g fill="#890000"><path d="M241.4 444.6L245.8 442.1L252.0 444.0L255.8 446.5L257.0 451.5L258.2 456.5L260.8 460.2L263.9 464.0L262.0 465.9L257.0 464.0L253.2 460.2L249.5 457.8L245.8 455.2L242.6 450.9Z"/></g>
<g fill="#FF4000"><path d="M254.5 465.2L259.5 464.0L264.5 465.2L265.8 468.4L262.0 470.9L257.0 470.2L254.5 467.8Z"/></g>
<g fill="#E40000"><path d="M255.1 460.2L258.2 459.6L262.0 463.4L260.1 465.2L256.4 463.8Z"/></g>
<g fill="#FFFFFF"><path d="M518.8 192.2L527.5 191.9L535.0 193.1L538.8 196.2L536.2 198.8L536.9 203.8L531.2 207.5L523.8 210.0L518.8 210.2Z"/></g>
<g fill="#FFFFFF"><path d="M753.3 170.6L758.8 169.8L768.1 169.8L775.9 170.6L768.1 172.2L763.4 174.5L759.5 175.0L755.6 172.5Z"/></g>
<g fill="#E40000"><path d="M759.5 171.4L766.6 170.6L768.1 171.9L763.4 173.4L760.3 174.5Z"/></g>
<g fill="#D3D3D3"><path d="M542.6 331.2L546.5 340.6L550.0 350.0L550.5 355.9L547.8 359.4L540.6 361.7L531.2 370.3L525.8 371.5L519.5 372.7L515.6 370.3L531.2 339.1L539.1 329.7Z"/></g>
<g fill="#ADFF52"><path d="M543.8 343.8L546.9 342.6L550.0 350.0L550.5 355.9L547.8 359.4L541.4 361.7L540.6 358.6L543.8 353.9L546.1 350.0L545.7 346.1Z"/></g>
<g fill="#DAFF25"><path d="M528.1 344.9L535.2 344.1L543.8 343.4L545.7 346.1L540.6 346.9L534.4 346.9L528.9 346.9Z"/><path d="M530.5 359.4L536.7 358.2L543.8 360.2L540.6 362.5L535.2 364.8L531.2 364.1Z"/><path d="M538.3 347.7L540.6 346.9L543.8 348.4L542.2 350.8L539.1 350.0Z"/></g>
<g fill="#FFC900"><path d="M535.2 353.1L539.1 352.0L541.4 353.9L539.8 356.6L535.5 356.9Z"/></g>
<g fill="#DAFF25"><path d="M560.2 332.0L562.5 329.3L566.4 329.3L566.0 332.8L562.5 333.6Z"/></g>
<g fill="#80FF80"><path d="M534.4 327.3L541.4 327.3L543.8 323.4L546.9 311.7L546.1 308.6L542.2 310.9L539.1 304.7L535.9 306.2L536.7 315.6L535.2 323.4Z"/></g>
<g fill="#80FF80" clip-path="url(#oc)"><path d="M588.9 673.3L595.9 667.8L601.4 663.9L605.3 669.4L609.2 672.2L602.2 674.8L594.4 675.3Z"/></g>
<g fill="#FFFFFF"><path d="M615.0 671.2L618.1 670.9L625.6 674.4L624.8 675.9L620.2 674.8L615.5 672.8Z"/></g>
<g fill="#D3D3D3"><path d="M592.0 666.2L595.2 665.3L600.3 667.8L599.1 669.7L594.4 669.1Z"/></g>
<g fill="#D3D3D3"><path d="M807.0 714.8L809.4 713.8L811.7 715.6L811.2 719.5L809.4 721.6L807.5 718.8Z"/><path d="M813.1 727.8L815.6 727.3L817.5 731.2L816.9 735.2L814.8 735.2L813.4 731.2Z"/><path d="M818.4 742.2L821.6 741.9L825.0 746.9L824.7 750.3L821.9 749.7L819.5 746.1Z"/><path d="M821.6 756.6L823.8 756.2L824.4 761.7L822.7 763.8L820.6 760.9Z"/><path d="M817.2 770.6L819.4 770.3L819.7 773.4L817.5 774.1Z"/><path d="M807.8 792.2L810.0 790.9L811.2 793.4L809.4 795.9L807.5 794.7Z"/><path d="M805.6 699.2L809.4 699.2L809.1 701.6L806.2 701.6Z"/><path d="M764.8 811.7L768.4 810.9L769.5 814.1L766.4 816.4L763.3 815.3Z"/></g>
<g fill="#FFFFFF"><path d="M811.7 713.3L814.1 711.2L817.5 714.8L814.8 716.4L812.5 715.6Z"/><path d="M815.9 720.6L817.8 720.3L818.0 722.7L816.2 722.8Z"/><path d="M798.8 705.5L800.3 705.5L800.3 707.8L798.8 707.8Z"/><path d="M825.0 810.2L830.5 807.5L830.9 809.1L825.8 811.9Z"/><path d="M758.6 813.3L764.1 812.5L764.4 814.4L759.4 815.3Z"/><path d="M739.1 814.8L743.0 814.5L743.0 816.4L739.1 816.4Z"/><path d="M725.0 797.7L726.9 796.9L727.2 798.8L725.3 799.4Z"/><path d="M753.9 796.6L755.9 796.2L756.2 798.8L754.1 799.1Z"/></g>
<g fill="#ADFF52"><path d="M267.0 461.5L272.0 456.5L274.5 460.2L279.5 459.6L283.2 461.5L285.8 465.2L284.5 467.8L279.5 470.2L274.5 471.5L269.5 472.8L267.0 469.0Z"/></g>
<path fill="none" stroke="#FFFFFF" stroke-width="1.2" d="M535.0 193.5L542.5 189.4L548.8 184.4L556.2 178.8L567.5 176.2L575.0 171.9L581.2 168.8L587.5 168.1L589.4 163.8L583.8 165.0L578.8 168.8"/>
<path fill="none" stroke="#FFFFFF" stroke-width="0.9" d="M526.2 163.1L531.2 167.5L543.8 170.0L555.0 166.9L565.0 165.6L577.5 168.8"/>
<path fill="none" stroke="#FFFFFF" stroke-width="2.4" d="M592.2 176.2L592.8 182.5L591.9 188.1"/>
<path fill="none" stroke="#FFFFFF" stroke-width="0.9" d="M591.9 188.1L589.4 196.2L590.0 200.0L584.4 206.2"/>
<path fill="none" stroke="#FFFFFF" stroke-width="1.0" d="M610.6 173.1L611.9 178.8"/>
<path fill="none" stroke="#FFFFFF" stroke-width="2.5" d="M636.2 178.8L638.8 180.6"/>
<path fill="none" stroke="#FFFFFF" stroke-width="2.2" d="M626.9 202.5L630.6 205.0"/>
<path fill="none" stroke="#FFFFFF" stroke-width="1.2" d="M539.4 210.6L545.6 211.5"/>
<path fill="none" stroke="#FFFFFF" stroke-width="0.8" d="M522.5 218.8L524.4 223.1"/>
<path fill="none" stroke="#FFFFFF" stroke-width="0.8" d="M526.9 216.9L530.6 223.1"/>
<path fill="none" stroke="#FFFFFF" stroke-width="0.8" d="M531.9 216.9L535.6 219.4"/>
<path fill="none" stroke="#FFFFFF" stroke-width="0.9" d="M538.8 180.0L533.8 183.8L536.9 186.9L535.0 188.1"/>
<path fill="none" stroke="#FFFFFF" stroke-width="1.0" d="M311.8 326.2L314.2 335.0L316.0 346.2"/>
<path fill="none" stroke="#FFFFFF" stroke-width="0.9" d="M315.5 327.0L318.0 335.0"/>
<path fill="none" stroke="#FFFFFF" stroke-width="1.0" d="M364.2 335.0L370.5 334.5"/>
<path fill="none" stroke="#FFFFFF" stroke-width="0.9" d="M323.0 368.0L330.5 369.0L336.8 372.5"/>
<path fill="none" stroke="#FFFFFF" stroke-width="1.0" d="M213.0 372.0L219.2 371.5"/>
<path fill="none" stroke="#FFFFFF" stroke-width="2.0" d="M148.5 384.5L153.0 386.2L156.2 383.8"/>
<path fill="none" stroke="#FFFFFF" stroke-width="0.8" d="M348.0 391.2L350.0 395.0"/>
<path fill="none" stroke="#FFFFFF" stroke-width="0.8" d="M344.2 401.2L345.5 406.2"/>
<path fill="none" stroke="#FFFFFF" stroke-width="0.9" d="M231.5 185.0L239.3 188.3"/>
<path fill="none" stroke="#FFFFFF" stroke-width="0.8" d="M254.6 197.1L255.9 204.9L257.9 212.7"/>
<path fill="none" stroke="#FFFFFF" stroke-width="1.0" d="M278.8 193.2L280.0 198.1"/>
<path fill="none" stroke="#FFFFFF" stroke-width="1.2" d="M204.2 421.5L208.0 427.2L209.2 434.8"/>
<path fill="none" stroke="#FFFFFF" stroke-width="1.5" d="M208.5 431.0L210.5 435.5"/>
<path fill="none" stroke="#FFFFFF" stroke-width="1.5" d="M373.5 442.2L378.0 444.0"/>
<path fill="none" stroke="#FFFFFF" stroke-width="1.2" d="M390.2 379.0L395.2 375.8"/>
<path fill="none" stroke="#FFFFFF" stroke-width="1.0" d="M407.8 372.5L414.0 376.5"/>
<path fill="none" stroke="#FFFFFF" stroke-width="1.3" d="M417.8 383.8L421.5 385.8L425.2 389.5"/>
<path fill="none" stroke="#FFFFFF" stroke-width="1.0" d="M437.8 382.0L444.0 382.5"/>
<path fill="none" stroke="#FFFFFF" stroke-width="1.2" d="M456.5 391.2L466.5 395.2"/>
<path fill="none" stroke="#FFF600" stroke-width="1.0" d="M748.1 169.4L751.7 167.2L754.8 163.6"/>
<path fill="none" stroke="#FFF600" stroke-width="0.9" d="M722.0 191.2L725.2 188.1L729.1 185.9"/>
<path fill="none" stroke="#FFF600" stroke-width="0.9" d="M750.2 199.5L754.1 195.9L758.8 192.2"/>
<path fill="none" stroke="#FFFFFF" stroke-width="1.0" d="M134.2 561.0L136.8 548.5L140.5 538.5L141.8 528.5L139.2 518.5L140.5 508.5L145.5 498.5L153.0 491.0L163.0 486.0L173.0 481.0L183.0 474.8L193.0 468.5L203.0 464.8L215.5 463.5"/>
<path fill="none" stroke="#FFFFFF" stroke-width="0.9" d="M440.2 439.5L444.0 432.0L449.0 424.5L456.5 417.0L464.0 412.0L471.5 405.8L479.0 399.5L486.5 392.0L494.0 387.0L504.0 385.8"/>
<path fill="none" stroke="#FFFFFF" stroke-width="0.8" d="M541.2 327.3L543.8 323.4L547.5 317.8L553.1 312.1L558.8 304.6L560.6 299.9L565.3 298.1L567.2 293.4L564.4 287.8L570.0 282.1L575.6 277.4L579.4 270.9L578.4 261.5"/>
<path fill="none" stroke="#80FF80" stroke-width="0.8" d="M533.6 300.0L535.2 304.7L534.4 309.4"/>
<path fill="none" stroke="#52FFAD" stroke-width="0.8" d="M568.4 331.2L567.2 335.2L563.3 338.3"/>
<path fill="none" stroke="#FFFFFF" stroke-width="0.7" d="M523.4 309.0L535.2 318.0"/>
<path fill="none" stroke="#FFFFFF" stroke-width="0.7" d="M525.8 317.6L535.2 323.4"/>
<path fill="none" stroke="#FFFFFF" stroke-width="0.7" d="M522.7 302.3L533.6 307.8"/>
<path fill="none" stroke="#FFFFFF" stroke-width="0.7" d="M550.0 311.7L542.2 323.4"/>
<path fill="none" stroke="#FFFFFF" stroke-width="0.9" d="M542.2 329.1L544.5 334.4L546.9 340.6L548.8 345.3L550.8 350.0L551.3 354.7L550.8 357.8L548.4 360.2L545.3 361.3L540.6 362.5L535.9 367.2L531.2 371.1"/>
<path fill="none" stroke="#FFFFFF" stroke-width="0.7" d="M795.3 837.5L797.7 845.3L801.6 850.0L802.3 856.2L798.4 859.4"/>
<path fill="none" stroke="#FFFFFF" stroke-width="0.7" d="M825.0 846.9L822.7 853.1L825.0 859.4"/>
<path fill="none" stroke="#FFFFFF" stroke-width="0.7" d="M762.5 820.3L768.8 822.7L773.4 821.1"/>
<path fill="none" stroke="#FFFFFF" stroke-width="0.9" d="M576.9 259.1L585.0 254.1L597.5 250.4L610.0 248.8L618.8 250.4"/>
<path fill="none" stroke="#FFFFFF" stroke-width="0.9" d="M578.8 261.0L591.2 257.9L603.8 254.8L618.8 251.6L625.0 249.5"/>
<path fill="none" stroke="#FFFFFF" stroke-width="1.0" d="M645.0 239.8L652.5 239.5L654.0 236.6L652.5 233.5L649.4 232.2"/>
<path fill="none" stroke="#FFFFFF" stroke-width="1.2" d="M637.5 244.5L645.0 245.5"/>
<path fill="none" stroke="#FFFFFF" stroke-width="1.0" d="M651.2 246.8L653.8 247.0"/>
<path fill="none" stroke="#FFFFFF" stroke-width="1.0" d="M609.4 227.9L610.6 224.8"/>
<path fill="none" stroke="#80FF80" stroke-width="0.8" d="M579.4 234.8L579.8 248.5L578.8 253.5"/>
<path fill="none" stroke="#FFFFFF" stroke-width="1.6" d="M151.8 640.0L145.5 633.5L139.2 621.0L134.2 606.0L132.5 591.0L133.0 576.0"/>
<path fill="none" stroke="#FFFFFF" stroke-width="1.0" d="M200.0 675.8L203.0 676.2L193.0 677.5L185.5 672.5L178.0 670.0L170.5 667.5L165.5 660.0L158.0 650.0L151.8 640.0"/>
<path fill="none" stroke="#FFFFFF" stroke-width="1.0" d="M396.5 813.0L395.2 805.5L397.8 793.0L400.2 783.0"/>
<path fill="none" stroke="#FFFFFF" stroke-width="0.8" d="M267.0 461.5L272.0 456.5L274.5 460.2L279.5 459.6L283.2 461.5L285.8 465.2L284.5 467.8L279.5 470.2L274.5 471.5L269.5 472.8L267.0 469.0L267.0 461.5"/>
<path fill="none" stroke="#FFFFFF" stroke-width="0.8" d="M272.0 453.4L277.0 452.1L280.8 453.4L279.5 455.9L274.5 456.8L272.0 455.2L272.0 453.4"/>
<path fill="none" stroke="#FFFFFF" stroke-width="0.8" d="M287.0 462.8L292.0 459.0L297.0 456.5L300.8 461.5L299.5 465.2L295.8 468.4L290.8 469.6L287.0 467.8L287.0 462.8"/>
<path fill="none" stroke="#FFFFFF" stroke-width="0.8" d="M516.8 217.9L518.2 220.9"/>
<path fill="none" stroke="#FFFFFF" stroke-width="0.8" d="M518.8 222.6L520.2 226.0"/>
<path fill="none" stroke="#FFFFFF" stroke-width="0.9" d="M523.7 217.9L524.5 226.6"/>
<path fill="none" stroke="#FFFFFF" stroke-width="2.0" d="M591.3 178.3L590.7 186.4"/>
<path fill="#890000" d="M136.0 550.0h1.0v1.0h-1.0zM134.0 551.0h1.0v1.0h-1.0zM133.0 550.0h1.0v1.0h-1.0zM134.0 552.0h1.0v2.0h-1.0zM136.0 550.0h2.0v1.0h-2.0zM134.0 558.0h1.0v1.0h-1.0zM138.0 543.0h1.0v1.0h-1.0zM135.0 548.0h2.0v1.0h-2.0zM137.0 541.0h2.0v1.0h-2.0zM132.0 543.0h2.0v2.0h-2.0zM137.0 538.0h1.0v1.0h-1.0zM140.0 529.0h2.0v1.0h-2.0zM139.0 532.0h2.0v1.0h-2.0zM140.0 537.0h2.0v1.0h-2.0zM138.0 534.0h2.0v1.0h-2.0zM140.0 534.0h1.0v1.0h-1.0zM137.0 519.0h1.0v1.0h-1.0zM137.0 521.0h1.0v1.0h-1.0zM136.0 522.0h1.0v2.0h-1.0zM137.0 520.0h1.0v2.0h-1.0zM139.0 509.0h1.0v1.0h-1.0zM137.0 509.0h1.0v1.0h-1.0zM138.0 513.0h2.0v1.0h-2.0zM139.0 512.0h1.0v1.0h-1.0zM137.0 513.0h2.0v2.0h-2.0zM142.0 497.0h1.0v2.0h-1.0zM140.0 505.0h1.0v2.0h-1.0zM141.0 506.0h2.0v1.0h-2.0zM142.0 501.0h2.0v1.0h-2.0zM151.0 491.0h2.0v1.0h-2.0zM147.0 494.0h1.0v1.0h-1.0zM156.0 488.0h1.0v1.0h-1.0zM157.0 487.0h2.0v1.0h-2.0zM165.0 484.0h1.0v2.0h-1.0zM168.0 479.0h1.0v2.0h-1.0zM168.0 482.0h1.0v2.0h-1.0zM170.0 480.0h1.0v2.0h-1.0zM174.0 476.0h2.0v2.0h-2.0zM177.0 475.0h1.0v2.0h-1.0zM178.0 478.0h1.0v2.0h-1.0zM175.0 479.0h2.0v1.0h-2.0zM183.0 473.0h1.0v1.0h-1.0zM183.0 474.0h2.0v1.0h-2.0zM194.0 467.0h1.0v1.0h-1.0zM197.0 464.0h1.0v1.0h-1.0zM196.0 466.0h2.0v1.0h-2.0zM198.0 465.0h1.0v1.0h-1.0zM206.0 463.0h1.0v1.0h-1.0zM205.0 463.0h1.0v1.0h-1.0zM204.0 463.0h2.0v2.0h-2.0zM215.0 462.0h1.0v1.0h-1.0zM206.0 462.0h2.0v2.0h-2.0zM223.0 460.0h1.0v1.0h-1.0zM216.0 459.0h2.0v1.0h-2.0zM219.0 459.0h2.0v1.0h-2.0zM224.0 462.0h1.0v1.0h-1.0zM227.0 459.0h1.0v1.0h-1.0zM225.0 461.0h1.0v1.0h-1.0zM216.0 460.0h2.0v2.0h-2.0zM225.0 460.0h2.0v1.0h-2.0zM227.0 461.0h1.0v1.0h-1.0zM219.0 459.0h1.0v1.0h-1.0zM232.0 462.0h1.0v1.0h-1.0zM234.0 460.0h2.0v2.0h-2.0zM238.0 461.0h1.0v1.0h-1.0zM234.0 461.0h2.0v1.0h-2.0zM236.0 461.0h1.0v2.0h-1.0zM238.0 462.0h1.0v2.0h-1.0zM232.0 461.0h2.0v2.0h-2.0zM228.0 461.0h1.0v1.0h-1.0zM244.0 459.0h2.0v1.0h-2.0zM239.0 462.0h1.0v1.0h-1.0zM244.0 463.0h1.0v1.0h-1.0zM247.0 461.0h2.0v1.0h-2.0zM244.0 461.0h1.0v1.0h-1.0zM248.0 461.0h1.0v1.0h-1.0zM246.0 463.0h2.0v1.0h-2.0zM250.0 463.0h1.0v1.0h-1.0zM251.0 462.0h1.0v1.0h-1.0zM255.0 465.0h1.0v1.0h-1.0zM256.0 468.0h1.0v1.0h-1.0zM259.0 470.0h1.0v1.0h-1.0zM256.0 467.0h1.0v1.0h-1.0zM256.0 466.0h1.0v1.0h-1.0zM258.0 467.0h2.0v1.0h-2.0zM252.0 465.0h2.0v1.0h-2.0zM253.0 463.0h1.0v1.0h-1.0zM253.0 465.0h2.0v1.0h-2.0zM261.0 469.0h2.0v1.0h-2.0zM261.0 468.0h1.0v1.0h-1.0zM261.0 469.0h1.0v1.0h-1.0zM268.0 468.0h1.0v2.0h-1.0zM262.0 470.0h2.0v1.0h-2.0zM262.0 470.0h1.0v1.0h-1.0zM263.0 470.0h1.0v2.0h-1.0zM268.0 471.0h2.0v1.0h-2.0zM268.0 471.0h2.0v2.0h-2.0zM265.0 471.0h1.0v1.0h-1.0zM271.0 470.0h1.0v2.0h-1.0zM268.0 471.0h2.0v1.0h-2.0zM281.0 468.0h1.0v1.0h-1.0zM279.0 469.0h1.0v1.0h-1.0zM278.0 469.0h2.0v1.0h-2.0zM273.0 472.0h1.0v2.0h-1.0zM275.0 471.0h1.0v1.0h-1.0zM280.0 469.0h1.0v2.0h-1.0zM282.0 470.0h1.0v1.0h-1.0zM280.0 468.0h1.0v1.0h-1.0zM272.0 470.0h1.0v2.0h-1.0zM268.0 472.0h1.0v1.0h-1.0zM286.0 470.0h1.0v1.0h-1.0zM287.0 471.0h1.0v1.0h-1.0zM287.0 470.0h1.0v1.0h-1.0zM288.0 473.0h1.0v1.0h-1.0zM288.0 471.0h1.0v2.0h-1.0zM287.0 472.0h1.0v1.0h-1.0zM289.0 471.0h2.0v1.0h-2.0zM290.0 473.0h1.0v1.0h-1.0zM293.0 473.0h1.0v2.0h-1.0zM296.0 470.0h2.0v1.0h-2.0zM292.0 471.0h1.0v2.0h-1.0zM294.0 471.0h1.0v2.0h-1.0zM293.0 471.0h1.0v1.0h-1.0zM289.0 473.0h1.0v1.0h-1.0zM290.0 472.0h2.0v1.0h-2.0zM289.0 475.0h1.0v2.0h-1.0zM288.0 474.0h1.0v2.0h-1.0zM296.0 477.0h2.0v1.0h-2.0zM290.0 475.0h2.0v1.0h-2.0zM292.0 478.0h1.0v1.0h-1.0zM294.0 477.0h1.0v2.0h-1.0zM293.0 476.0h1.0v1.0h-1.0zM295.0 478.0h1.0v2.0h-1.0zM292.0 464.0h2.0v1.0h-2.0zM291.0 464.0h1.0v1.0h-1.0zM294.0 465.0h2.0v2.0h-2.0zM292.0 466.0h1.0v2.0h-1.0zM290.0 467.0h1.0v1.0h-1.0zM297.0 462.0h2.0v1.0h-2.0zM296.0 460.0h1.0v1.0h-1.0zM294.0 463.0h1.0v1.0h-1.0zM295.0 463.0h1.0v2.0h-1.0zM294.0 463.0h2.0v1.0h-2.0zM300.0 463.0h1.0v2.0h-1.0zM294.0 457.0h1.0v1.0h-1.0zM297.0 452.0h1.0v2.0h-1.0zM305.0 453.0h2.0v1.0h-2.0zM307.0 452.0h1.0v1.0h-1.0zM311.0 452.0h2.0v1.0h-2.0zM308.0 452.0h1.0v1.0h-1.0zM320.0 452.0h1.0v1.0h-1.0zM321.0 451.0h1.0v1.0h-1.0zM327.0 450.0h1.0v1.0h-1.0zM337.0 450.0h1.0v1.0h-1.0zM342.0 447.0h1.0v2.0h-1.0zM344.0 451.0h1.0v1.0h-1.0zM346.0 449.0h1.0v2.0h-1.0zM366.0 459.0h1.0v1.0h-1.0zM372.0 459.0h2.0v1.0h-2.0zM370.0 461.0h1.0v1.0h-1.0zM383.0 457.0h1.0v2.0h-1.0zM381.0 459.0h1.0v2.0h-1.0zM387.0 456.0h2.0v2.0h-2.0zM383.0 453.0h1.0v2.0h-1.0zM387.0 456.0h1.0v1.0h-1.0zM387.0 457.0h1.0v1.0h-1.0zM391.0 456.0h1.0v1.0h-1.0zM395.0 459.0h1.0v2.0h-1.0zM397.0 458.0h1.0v1.0h-1.0zM394.0 457.0h2.0v1.0h-2.0zM396.0 458.0h2.0v1.0h-2.0zM393.0 458.0h2.0v1.0h-2.0zM394.0 453.0h1.0v1.0h-1.0zM393.0 456.0h1.0v1.0h-1.0zM396.0 457.0h1.0v2.0h-1.0zM395.0 458.0h2.0v1.0h-2.0zM399.0 458.0h2.0v1.0h-2.0zM399.0 460.0h1.0v1.0h-1.0zM399.0 457.0h1.0v2.0h-1.0zM398.0 456.0h1.0v2.0h-1.0zM399.0 458.0h1.0v1.0h-1.0zM402.0 458.0h1.0v1.0h-1.0zM405.0 462.0h2.0v1.0h-2.0zM402.0 461.0h1.0v2.0h-1.0zM401.0 460.0h2.0v2.0h-2.0zM402.0 459.0h1.0v1.0h-1.0zM404.0 463.0h2.0v1.0h-2.0zM403.0 462.0h2.0v1.0h-2.0zM407.0 461.0h1.0v1.0h-1.0zM410.0 464.0h1.0v2.0h-1.0zM410.0 465.0h2.0v1.0h-2.0zM411.0 462.0h1.0v2.0h-1.0zM411.0 465.0h2.0v2.0h-2.0zM409.0 466.0h1.0v1.0h-1.0zM415.0 465.0h1.0v1.0h-1.0zM411.0 466.0h1.0v1.0h-1.0zM414.0 470.0h1.0v2.0h-1.0zM413.0 469.0h1.0v1.0h-1.0zM412.0 469.0h1.0v1.0h-1.0zM411.0 469.0h1.0v1.0h-1.0zM415.0 473.0h1.0v1.0h-1.0zM416.0 474.0h2.0v1.0h-2.0zM416.0 473.0h1.0v1.0h-1.0zM419.0 475.0h2.0v1.0h-2.0zM417.0 472.0h2.0v1.0h-2.0zM416.0 473.0h1.0v1.0h-1.0zM419.0 472.0h1.0v1.0h-1.0zM419.0 481.0h1.0v1.0h-1.0zM421.0 481.0h1.0v2.0h-1.0zM418.0 481.0h2.0v2.0h-2.0zM419.0 483.0h1.0v1.0h-1.0zM420.0 485.0h1.0v1.0h-1.0zM419.0 487.0h1.0v1.0h-1.0zM421.0 487.0h1.0v1.0h-1.0zM419.0 483.0h1.0v1.0h-1.0zM418.0 490.0h1.0v1.0h-1.0zM418.0 491.0h1.0v2.0h-1.0zM418.0 490.0h1.0v2.0h-1.0zM416.0 492.0h1.0v2.0h-1.0zM418.0 490.0h1.0v2.0h-1.0zM420.0 497.0h1.0v1.0h-1.0zM416.0 498.0h1.0v1.0h-1.0zM416.0 498.0h1.0v2.0h-1.0zM418.0 501.0h1.0v1.0h-1.0zM420.0 502.0h1.0v1.0h-1.0zM417.0 502.0h1.0v2.0h-1.0zM419.0 503.0h1.0v1.0h-1.0zM419.0 504.0h1.0v1.0h-1.0zM420.0 504.0h1.0v1.0h-1.0zM418.0 505.0h1.0v2.0h-1.0zM422.0 512.0h2.0v2.0h-2.0zM424.0 510.0h2.0v1.0h-2.0zM424.0 515.0h2.0v1.0h-2.0zM424.0 508.0h2.0v1.0h-2.0zM423.0 513.0h1.0v2.0h-1.0zM424.0 514.0h1.0v1.0h-1.0zM422.0 510.0h1.0v1.0h-1.0zM426.0 519.0h1.0v1.0h-1.0zM425.0 517.0h1.0v2.0h-1.0zM425.0 518.0h1.0v2.0h-1.0zM426.0 519.0h1.0v1.0h-1.0zM426.0 518.0h2.0v1.0h-2.0zM426.0 521.0h1.0v1.0h-1.0zM428.0 521.0h1.0v2.0h-1.0zM432.0 526.0h1.0v1.0h-1.0zM431.0 523.0h1.0v2.0h-1.0zM435.0 532.0h1.0v1.0h-1.0zM435.0 531.0h2.0v1.0h-2.0zM432.0 528.0h1.0v1.0h-1.0zM435.0 531.0h1.0v1.0h-1.0zM434.0 529.0h1.0v2.0h-1.0zM438.0 533.0h1.0v1.0h-1.0zM437.0 531.0h1.0v1.0h-1.0zM436.0 531.0h1.0v1.0h-1.0zM461.0 541.0h1.0v1.0h-1.0zM462.0 540.0h1.0v1.0h-1.0zM459.0 541.0h1.0v1.0h-1.0zM461.0 539.0h2.0v1.0h-2.0zM463.0 536.0h1.0v1.0h-1.0zM464.0 535.0h1.0v1.0h-1.0zM463.0 536.0h1.0v1.0h-1.0zM461.0 533.0h2.0v1.0h-2.0zM462.0 531.0h1.0v1.0h-1.0zM463.0 532.0h1.0v2.0h-1.0zM462.0 527.0h1.0v1.0h-1.0zM464.0 526.0h1.0v1.0h-1.0zM463.0 524.0h2.0v2.0h-2.0zM463.0 519.0h1.0v1.0h-1.0zM464.0 521.0h1.0v2.0h-1.0zM462.0 519.0h1.0v1.0h-1.0zM464.0 525.0h1.0v1.0h-1.0zM461.0 522.0h1.0v1.0h-1.0zM463.0 514.0h1.0v2.0h-1.0zM460.0 509.0h1.0v1.0h-1.0zM463.0 514.0h2.0v1.0h-2.0zM462.0 517.0h1.0v1.0h-1.0zM463.0 516.0h2.0v2.0h-2.0zM463.0 511.0h2.0v1.0h-2.0zM461.0 511.0h1.0v1.0h-1.0zM458.0 502.0h2.0v2.0h-2.0zM459.0 508.0h1.0v1.0h-1.0zM461.0 509.0h1.0v1.0h-1.0zM460.0 502.0h2.0v2.0h-2.0zM459.0 502.0h1.0v1.0h-1.0zM458.0 504.0h2.0v2.0h-2.0zM459.0 504.0h1.0v1.0h-1.0zM457.0 499.0h1.0v1.0h-1.0zM453.0 496.0h2.0v1.0h-2.0zM457.0 501.0h2.0v1.0h-2.0zM455.0 496.0h2.0v1.0h-2.0zM458.0 499.0h2.0v1.0h-2.0zM456.0 495.0h2.0v1.0h-2.0zM454.0 490.0h2.0v1.0h-2.0zM455.0 490.0h1.0v1.0h-1.0zM454.0 493.0h1.0v1.0h-1.0zM455.0 488.0h1.0v1.0h-1.0zM456.0 490.0h1.0v1.0h-1.0zM455.0 488.0h1.0v2.0h-1.0zM453.0 488.0h1.0v1.0h-1.0zM455.0 489.0h1.0v1.0h-1.0zM449.0 482.0h1.0v1.0h-1.0zM449.0 481.0h2.0v1.0h-2.0zM454.0 486.0h1.0v1.0h-1.0zM453.0 484.0h2.0v1.0h-2.0zM451.0 480.0h1.0v1.0h-1.0zM450.0 482.0h1.0v1.0h-1.0zM454.0 486.0h1.0v1.0h-1.0zM451.0 482.0h1.0v2.0h-1.0zM446.0 473.0h1.0v2.0h-1.0zM450.0 478.0h2.0v2.0h-2.0zM444.0 474.0h1.0v2.0h-1.0zM448.0 477.0h1.0v1.0h-1.0zM446.0 473.0h1.0v2.0h-1.0zM449.0 479.0h2.0v1.0h-2.0zM446.0 478.0h1.0v1.0h-1.0zM445.0 470.0h1.0v1.0h-1.0zM447.0 471.0h2.0v1.0h-2.0zM444.0 467.0h1.0v1.0h-1.0zM443.0 464.0h1.0v1.0h-1.0zM445.0 466.0h1.0v2.0h-1.0zM441.0 458.0h1.0v1.0h-1.0zM443.0 460.0h1.0v1.0h-1.0zM444.0 461.0h1.0v1.0h-1.0zM443.0 462.0h1.0v1.0h-1.0zM442.0 458.0h2.0v1.0h-2.0zM441.0 458.0h1.0v2.0h-1.0zM440.0 450.0h1.0v1.0h-1.0zM437.0 450.0h2.0v2.0h-2.0zM438.0 451.0h1.0v1.0h-1.0zM440.0 455.0h1.0v1.0h-1.0zM438.0 450.0h2.0v1.0h-2.0zM437.0 445.0h2.0v1.0h-2.0zM439.0 443.0h1.0v1.0h-1.0zM438.0 442.0h1.0v1.0h-1.0zM437.0 443.0h1.0v1.0h-1.0zM437.0 446.0h1.0v1.0h-1.0zM438.0 441.0h2.0v2.0h-2.0zM437.0 448.0h2.0v1.0h-2.0zM439.0 446.0h2.0v1.0h-2.0zM438.0 436.0h1.0v2.0h-1.0zM441.0 431.0h1.0v1.0h-1.0zM441.0 431.0h1.0v1.0h-1.0zM439.0 435.0h1.0v2.0h-1.0zM440.0 438.0h1.0v1.0h-1.0zM440.0 435.0h1.0v1.0h-1.0zM442.0 431.0h1.0v1.0h-1.0zM440.0 436.0h1.0v1.0h-1.0zM441.0 434.0h2.0v1.0h-2.0zM436.0 436.0h1.0v1.0h-1.0zM441.0 431.0h1.0v2.0h-1.0zM443.0 428.0h1.0v1.0h-1.0zM445.0 427.0h1.0v1.0h-1.0zM446.0 426.0h2.0v2.0h-2.0zM446.0 424.0h2.0v1.0h-2.0zM444.0 430.0h1.0v1.0h-1.0zM445.0 425.0h1.0v2.0h-1.0zM446.0 424.0h1.0v2.0h-1.0zM442.0 429.0h1.0v2.0h-1.0zM444.0 426.0h2.0v1.0h-2.0zM446.0 427.0h2.0v1.0h-2.0zM445.0 427.0h1.0v2.0h-1.0zM452.0 417.0h1.0v1.0h-1.0zM450.0 420.0h1.0v1.0h-1.0zM452.0 418.0h2.0v2.0h-2.0zM454.0 418.0h1.0v1.0h-1.0zM449.0 422.0h1.0v2.0h-1.0zM448.0 423.0h1.0v1.0h-1.0zM452.0 416.0h1.0v1.0h-1.0zM449.0 420.0h1.0v1.0h-1.0zM450.0 422.0h1.0v2.0h-1.0zM450.0 420.0h1.0v1.0h-1.0zM460.0 409.0h1.0v2.0h-1.0zM455.0 412.0h2.0v1.0h-2.0zM456.0 411.0h1.0v2.0h-1.0zM459.0 410.0h2.0v1.0h-2.0zM458.0 414.0h1.0v1.0h-1.0zM460.0 413.0h2.0v1.0h-2.0zM459.0 413.0h1.0v2.0h-1.0zM458.0 414.0h1.0v2.0h-1.0zM457.0 411.0h1.0v2.0h-1.0zM461.0 411.0h1.0v1.0h-1.0zM459.0 408.0h2.0v1.0h-2.0zM469.0 407.0h1.0v2.0h-1.0zM463.0 407.0h1.0v2.0h-1.0zM470.0 405.0h2.0v2.0h-2.0zM468.0 407.0h2.0v1.0h-2.0zM469.0 407.0h1.0v1.0h-1.0zM469.0 406.0h1.0v1.0h-1.0zM470.0 406.0h2.0v2.0h-2.0zM469.0 404.0h1.0v1.0h-1.0zM466.0 408.0h1.0v2.0h-1.0zM466.0 405.0h1.0v1.0h-1.0zM473.0 398.0h1.0v2.0h-1.0zM473.0 400.0h1.0v2.0h-1.0zM474.0 401.0h1.0v1.0h-1.0zM475.0 398.0h1.0v2.0h-1.0zM474.0 401.0h1.0v1.0h-1.0zM469.0 402.0h1.0v1.0h-1.0zM473.0 398.0h1.0v1.0h-1.0zM471.0 404.0h1.0v2.0h-1.0zM473.0 401.0h1.0v2.0h-1.0zM472.0 399.0h2.0v1.0h-2.0zM482.0 392.0h2.0v2.0h-2.0zM480.0 397.0h1.0v1.0h-1.0zM481.0 395.0h1.0v1.0h-1.0zM480.0 393.0h1.0v1.0h-1.0zM485.0 392.0h2.0v1.0h-2.0zM483.0 395.0h2.0v1.0h-2.0zM484.0 392.0h2.0v1.0h-2.0zM483.0 394.0h1.0v1.0h-1.0zM481.0 390.0h1.0v1.0h-1.0zM486.0 392.0h1.0v1.0h-1.0zM482.0 390.0h1.0v2.0h-1.0zM486.0 389.0h2.0v1.0h-2.0zM487.0 387.0h1.0v1.0h-1.0zM488.0 390.0h1.0v1.0h-1.0zM491.0 387.0h1.0v1.0h-1.0zM490.0 386.0h1.0v1.0h-1.0zM489.0 383.0h2.0v1.0h-2.0zM492.0 387.0h2.0v1.0h-2.0zM492.0 386.0h1.0v1.0h-1.0zM489.0 386.0h1.0v1.0h-1.0zM486.0 389.0h1.0v2.0h-1.0zM503.0 384.0h1.0v1.0h-1.0zM495.0 385.0h1.0v2.0h-1.0zM503.0 382.0h1.0v1.0h-1.0zM502.0 383.0h1.0v1.0h-1.0zM500.0 383.0h2.0v2.0h-2.0zM497.0 385.0h1.0v2.0h-1.0zM501.0 383.0h1.0v1.0h-1.0zM499.0 384.0h1.0v1.0h-1.0zM502.0 382.0h1.0v1.0h-1.0zM503.0 380.0h1.0v1.0h-1.0zM503.0 382.0h2.0v1.0h-2.0zM505.0 383.0h1.0v1.0h-1.0zM510.0 373.0h1.0v2.0h-1.0zM505.0 380.0h1.0v1.0h-1.0zM511.0 377.0h1.0v1.0h-1.0zM512.0 377.0h2.0v2.0h-2.0zM505.0 381.0h1.0v1.0h-1.0zM511.0 375.0h1.0v1.0h-1.0zM503.0 378.0h1.0v1.0h-1.0zM505.0 380.0h1.0v1.0h-1.0zM502.0 378.0h1.0v1.0h-1.0zM511.0 378.0h1.0v1.0h-1.0zM510.0 378.0h1.0v1.0h-1.0zM513.0 376.0h1.0v1.0h-1.0zM517.0 370.0h1.0v1.0h-1.0zM518.0 371.0h1.0v2.0h-1.0zM516.0 373.0h1.0v2.0h-1.0zM515.0 373.0h1.0v1.0h-1.0zM515.0 372.0h1.0v2.0h-1.0zM517.0 373.0h1.0v1.0h-1.0zM522.0 369.0h1.0v1.0h-1.0zM519.0 365.0h1.0v1.0h-1.0zM519.0 370.0h1.0v1.0h-1.0zM523.0 370.0h1.0v1.0h-1.0zM520.0 372.0h1.0v1.0h-1.0zM519.0 369.0h2.0v1.0h-2.0zM525.0 371.0h1.0v2.0h-1.0zM530.0 370.0h1.0v1.0h-1.0zM530.0 370.0h1.0v1.0h-1.0zM528.0 368.0h1.0v1.0h-1.0zM526.0 370.0h1.0v1.0h-1.0zM527.0 368.0h1.0v1.0h-1.0zM529.0 368.0h2.0v1.0h-2.0zM539.0 323.0h1.0v1.0h-1.0zM544.0 319.0h1.0v2.0h-1.0zM545.0 311.0h1.0v1.0h-1.0zM550.0 309.0h2.0v1.0h-2.0zM550.0 308.0h1.0v1.0h-1.0zM554.0 310.0h1.0v1.0h-1.0zM557.0 301.0h1.0v1.0h-1.0zM556.0 302.0h2.0v2.0h-2.0zM563.0 297.0h1.0v2.0h-1.0zM561.0 296.0h2.0v1.0h-2.0zM564.0 293.0h2.0v1.0h-2.0zM567.0 293.0h1.0v1.0h-1.0zM563.0 293.0h2.0v2.0h-2.0zM565.0 294.0h1.0v1.0h-1.0zM567.0 281.0h1.0v1.0h-1.0zM565.0 280.0h1.0v1.0h-1.0zM576.0 269.0h1.0v1.0h-1.0zM573.0 276.0h1.0v1.0h-1.0zM575.0 268.0h1.0v1.0h-1.0zM575.0 265.0h1.0v1.0h-1.0zM583.0 260.0h1.0v1.0h-1.0zM616.0 252.0h2.0v2.0h-2.0zM621.0 249.0h1.0v1.0h-1.0zM627.0 247.0h1.0v1.0h-1.0zM622.0 244.0h2.0v1.0h-2.0zM626.0 243.0h2.0v1.0h-2.0zM636.0 225.0h1.0v1.0h-1.0zM637.0 223.0h1.0v1.0h-1.0zM640.0 214.0h1.0v2.0h-1.0zM650.0 201.0h1.0v1.0h-1.0zM666.0 194.0h2.0v1.0h-2.0zM669.0 193.0h1.0v1.0h-1.0zM679.0 189.0h1.0v1.0h-1.0zM447.0 535.0h1.0v1.0h-1.0zM452.0 484.0h1.0v1.0h-1.0zM446.0 535.0h1.0v1.0h-1.0zM452.0 516.0h1.0v1.0h-1.0zM462.0 531.0h1.0v1.0h-1.0zM452.0 506.0h1.0v1.0h-1.0zM450.0 534.0h1.0v1.0h-1.0zM420.0 514.0h1.0v1.0h-1.0zM455.0 533.0h1.0v1.0h-1.0zM438.0 535.0h1.0v1.0h-1.0zM427.0 513.0h1.0v1.0h-1.0zM449.0 507.0h1.0v1.0h-1.0zM444.0 527.0h1.0v1.0h-1.0zM450.0 487.0h1.0v1.0h-1.0zM438.0 529.0h1.0v1.0h-1.0zM452.0 489.0h1.0v1.0h-1.0zM441.0 523.0h1.0v1.0h-1.0zM457.0 496.0h1.0v1.0h-1.0zM420.0 510.0h1.0v1.0h-1.0zM452.0 506.0h1.0v1.0h-1.0zM428.0 520.0h1.0v1.0h-1.0zM454.0 515.0h1.0v1.0h-1.0zM462.0 511.0h1.0v1.0h-1.0zM428.0 509.0h1.0v1.0h-1.0zM463.0 535.0h1.0v1.0h-1.0zM459.0 522.0h1.0v1.0h-1.0zM435.0 531.0h1.0v1.0h-1.0zM452.0 516.0h1.0v1.0h-1.0zM461.0 513.0h1.0v1.0h-1.0zM432.0 530.0h1.0v1.0h-1.0zM443.0 521.0h1.0v1.0h-1.0zM438.0 532.0h1.0v1.0h-1.0zM437.0 519.0h1.0v1.0h-1.0zM452.0 486.0h1.0v1.0h-1.0zM444.0 530.0h1.0v1.0h-1.0zM445.0 531.0h1.0v1.0h-1.0zM444.0 525.0h1.0v1.0h-1.0zM424.0 510.0h1.0v1.0h-1.0zM457.0 529.0h1.0v1.0h-1.0zM446.0 534.0h1.0v1.0h-1.0zM443.0 535.0h1.0v1.0h-1.0zM446.0 511.0h1.0v1.0h-1.0zM434.0 520.0h1.0v1.0h-1.0zM462.0 527.0h1.0v1.0h-1.0zM451.0 481.0h1.0v1.0h-1.0zM427.0 509.0h1.0v1.0h-1.0zM430.0 517.0h1.0v1.0h-1.0zM462.0 508.0h1.0v1.0h-1.0zM442.0 527.0h1.0v1.0h-1.0zM437.0 534.0h1.0v1.0h-1.0zM439.0 512.0h1.0v1.0h-1.0zM451.0 528.0h1.0v1.0h-1.0zM456.0 494.0h1.0v1.0h-1.0zM456.0 497.0h1.0v1.0h-1.0zM430.0 521.0h1.0v1.0h-1.0zM454.0 507.0h1.0v1.0h-1.0zM456.0 520.0h1.0v1.0h-1.0zM445.0 529.0h1.0v1.0h-1.0zM456.0 493.0h1.0v1.0h-1.0zM429.0 512.0h1.0v1.0h-1.0zM446.0 516.0h1.0v1.0h-1.0zM441.0 528.0h1.0v1.0h-1.0zM451.0 522.0h1.0v1.0h-1.0zM443.0 524.0h1.0v1.0h-1.0zM436.0 509.0h1.0v1.0h-1.0zM453.0 521.0h1.0v1.0h-1.0zM451.0 512.0h1.0v1.0h-1.0zM452.0 514.0h1.0v1.0h-1.0zM459.0 524.0h1.0v1.0h-1.0zM464.0 536.0h1.0v1.0h-1.0zM435.0 513.0h1.0v1.0h-1.0zM453.0 500.0h1.0v1.0h-1.0zM443.0 533.0h1.0v1.0h-1.0zM464.0 534.0h1.0v1.0h-1.0zM450.0 506.0h1.0v1.0h-1.0zM448.0 530.0h1.0v1.0h-1.0zM445.0 533.0h1.0v1.0h-1.0zM439.0 518.0h1.0v1.0h-1.0zM450.0 523.0h1.0v1.0h-1.0zM433.0 513.0h1.0v1.0h-1.0zM456.0 525.0h1.0v1.0h-1.0zM461.0 528.0h1.0v1.0h-1.0zM420.0 510.0h1.0v1.0h-1.0zM429.0 518.0h1.0v1.0h-1.0zM456.0 517.0h1.0v1.0h-1.0zM455.0 537.0h1.0v1.0h-1.0zM448.0 520.0h1.0v1.0h-1.0zM462.0 515.0h1.0v1.0h-1.0zM453.0 521.0h1.0v1.0h-1.0zM454.0 505.0h1.0v1.0h-1.0zM455.0 525.0h1.0v1.0h-1.0zM445.0 510.0h1.0v1.0h-1.0zM451.0 483.0h1.0v1.0h-1.0zM443.0 510.0h1.0v1.0h-1.0zM424.0 510.0h1.0v1.0h-1.0zM433.0 516.0h1.0v1.0h-1.0zM432.0 525.0h1.0v1.0h-1.0zM454.0 537.0h1.0v1.0h-1.0zM438.0 524.0h1.0v1.0h-1.0zM456.0 495.0h1.0v1.0h-1.0zM450.0 528.0h1.0v1.0h-1.0zM458.0 509.0h1.0v1.0h-1.0zM451.0 535.0h1.0v1.0h-1.0zM447.0 515.0h1.0v1.0h-1.0zM441.0 510.0h1.0v1.0h-1.0zM453.0 536.0h1.0v1.0h-1.0zM450.0 524.0h1.0v1.0h-1.0zM442.0 536.0h1.0v1.0h-1.0zM439.0 515.0h1.0v1.0h-1.0zM446.0 528.0h1.0v1.0h-1.0zM456.0 512.0h1.0v1.0h-1.0zM445.0 523.0h1.0v1.0h-1.0zM433.0 517.0h1.0v1.0h-1.0zM463.0 515.0h1.0v1.0h-1.0zM443.0 516.0h1.0v1.0h-1.0zM450.0 526.0h1.0v1.0h-1.0zM463.0 524.0h1.0v1.0h-1.0zM431.0 525.0h1.0v1.0h-1.0zM458.0 515.0h1.0v1.0h-1.0zM433.0 514.0h1.0v1.0h-1.0zM420.0 482.0h1.0v1.0h-1.0zM413.0 470.0h1.0v1.0h-1.0zM404.0 460.0h1.0v1.0h-1.0zM414.0 467.0h1.0v1.0h-1.0zM402.0 461.0h1.0v1.0h-1.0zM410.0 464.0h1.0v1.0h-1.0zM417.0 476.0h1.0v1.0h-1.0zM404.0 461.0h1.0v1.0h-1.0zM410.0 466.0h1.0v1.0h-1.0zM409.0 467.0h1.0v1.0h-1.0zM405.0 466.0h1.0v1.0h-1.0zM406.0 459.0h1.0v1.0h-1.0zM412.0 472.0h1.0v1.0h-1.0zM419.0 483.0h1.0v1.0h-1.0zM407.0 459.0h1.0v1.0h-1.0zM405.0 460.0h1.0v1.0h-1.0zM407.0 467.0h1.0v1.0h-1.0zM405.0 466.0h1.0v1.0h-1.0zM412.0 470.0h1.0v1.0h-1.0zM408.0 462.0h1.0v1.0h-1.0zM413.0 468.0h1.0v1.0h-1.0zM402.0 459.0h1.0v1.0h-1.0zM416.0 480.0h1.0v1.0h-1.0zM410.0 468.0h1.0v1.0h-1.0zM416.0 472.0h1.0v1.0h-1.0zM410.0 463.0h1.0v1.0h-1.0zM419.0 477.0h1.0v1.0h-1.0zM413.0 472.0h1.0v1.0h-1.0zM418.0 478.0h1.0v1.0h-1.0zM406.0 466.0h1.0v1.0h-1.0zM413.0 472.0h1.0v1.0h-1.0zM400.0 462.0h1.0v1.0h-1.0zM414.0 474.0h1.0v1.0h-1.0zM414.0 474.0h1.0v1.0h-1.0zM411.0 468.0h1.0v1.0h-1.0zM414.0 468.0h1.0v1.0h-1.0zM401.0 460.0h1.0v1.0h-1.0zM426.0 517.0h1.0v1.0h-1.0zM418.0 497.0h1.0v1.0h-1.0zM426.0 513.0h1.0v1.0h-1.0zM417.0 502.0h1.0v1.0h-1.0zM419.0 500.0h1.0v1.0h-1.0zM422.0 497.0h1.0v1.0h-1.0zM419.0 498.0h1.0v1.0h-1.0zM422.0 500.0h1.0v1.0h-1.0zM423.0 499.0h1.0v1.0h-1.0zM420.0 497.0h1.0v1.0h-1.0zM422.0 494.0h1.0v1.0h-1.0zM422.0 498.0h1.0v1.0h-1.0zM416.0 495.0h1.0v1.0h-1.0zM416.0 498.0h1.0v1.0h-1.0zM422.0 503.0h1.0v1.0h-1.0zM420.0 498.0h1.0v1.0h-1.0zM416.0 495.0h1.0v1.0h-1.0zM429.0 517.0h1.0v1.0h-1.0zM417.0 498.0h1.0v1.0h-1.0zM422.0 510.0h1.0v1.0h-1.0zM425.0 509.0h1.0v1.0h-1.0zM421.0 493.0h1.0v1.0h-1.0zM425.0 507.0h1.0v1.0h-1.0zM231.0 457.0h1.0v1.0h-1.0zM261.0 471.0h1.0v1.0h-1.0zM254.0 460.0h1.0v1.0h-1.0zM286.0 472.0h1.0v1.0h-1.0zM246.0 444.0h1.0v1.0h-1.0zM251.0 446.0h1.0v1.0h-1.0zM292.0 472.0h1.0v1.0h-1.0zM238.0 460.0h1.0v1.0h-1.0zM251.0 447.0h1.0v1.0h-1.0zM237.0 451.0h1.0v1.0h-1.0zM269.0 465.0h1.0v1.0h-1.0zM250.0 450.0h1.0v1.0h-1.0zM234.0 459.0h1.0v1.0h-1.0zM224.0 458.0h1.0v1.0h-1.0zM230.0 453.0h1.0v1.0h-1.0zM214.0 463.0h1.0v1.0h-1.0zM230.0 461.0h1.0v1.0h-1.0zM209.0 455.0h1.0v1.0h-1.0zM213.0 462.0h1.0v1.0h-1.0zM292.0 460.0h1.0v1.0h-1.0zM273.0 468.0h1.0v1.0h-1.0zM239.0 455.0h1.0v1.0h-1.0zM219.0 460.0h1.0v1.0h-1.0zM285.0 458.0h1.0v1.0h-1.0zM262.0 468.0h1.0v1.0h-1.0zM243.0 458.0h1.0v1.0h-1.0zM255.0 451.0h1.0v1.0h-1.0zM256.0 460.0h1.0v1.0h-1.0zM207.0 460.0h1.0v1.0h-1.0zM294.0 463.0h1.0v1.0h-1.0zM251.0 462.0h1.0v1.0h-1.0zM282.0 461.0h1.0v1.0h-1.0zM268.0 464.0h1.0v1.0h-1.0zM286.0 464.0h1.0v1.0h-1.0zM291.0 453.0h1.0v1.0h-1.0zM267.0 465.0h1.0v1.0h-1.0zM291.0 462.0h1.0v1.0h-1.0zM254.0 462.0h1.0v1.0h-1.0zM260.0 472.0h1.0v1.0h-1.0zM283.0 464.0h1.0v1.0h-1.0zM234.0 453.0h1.0v1.0h-1.0zM228.0 460.0h1.0v1.0h-1.0zM258.0 462.0h1.0v1.0h-1.0zM219.0 461.0h1.0v1.0h-1.0zM226.0 455.0h1.0v1.0h-1.0zM265.0 464.0h1.0v1.0h-1.0zM232.0 462.0h1.0v1.0h-1.0zM267.0 457.0h1.0v1.0h-1.0zM278.0 453.0h1.0v1.0h-1.0zM254.0 467.0h1.0v1.0h-1.0zM227.0 455.0h1.0v1.0h-1.0zM207.0 462.0h1.0v1.0h-1.0zM224.0 448.0h1.0v1.0h-1.0zM277.0 461.0h1.0v1.0h-1.0zM275.0 453.0h1.0v1.0h-1.0zM217.0 456.0h1.0v1.0h-1.0zM296.0 469.0h1.0v1.0h-1.0zM256.0 458.0h1.0v1.0h-1.0zM215.0 463.0h1.0v1.0h-1.0zM287.0 473.0h1.0v1.0h-1.0zM241.0 456.0h1.0v1.0h-1.0zM269.0 473.0h1.0v1.0h-1.0zM205.0 461.0h1.0v1.0h-1.0zM258.0 448.0h1.0v1.0h-1.0zM267.0 455.0h1.0v1.0h-1.0zM277.0 470.0h1.0v1.0h-1.0zM255.0 448.0h1.0v1.0h-1.0zM221.0 463.0h1.0v1.0h-1.0zM248.0 453.0h1.0v1.0h-1.0zM234.0 454.0h1.0v1.0h-1.0zM248.0 455.0h1.0v1.0h-1.0zM269.0 472.0h1.0v1.0h-1.0zM535.0 339.0h1.0v1.0h-1.0zM524.0 355.0h1.0v1.0h-1.0zM536.0 365.0h1.0v1.0h-1.0zM534.0 358.0h1.0v1.0h-1.0zM542.0 339.0h1.0v1.0h-1.0zM521.0 368.0h1.0v1.0h-1.0zM530.0 355.0h1.0v1.0h-1.0zM538.0 349.0h1.0v1.0h-1.0zM510.0 374.0h1.0v1.0h-1.0zM530.0 336.0h1.0v1.0h-1.0zM516.0 357.0h1.0v1.0h-1.0zM533.0 356.0h1.0v1.0h-1.0zM521.0 361.0h1.0v1.0h-1.0zM530.0 362.0h1.0v1.0h-1.0zM540.0 332.0h1.0v1.0h-1.0zM537.0 342.0h1.0v1.0h-1.0zM541.0 332.0h1.0v1.0h-1.0zM541.0 331.0h1.0v1.0h-1.0zM522.0 344.0h1.0v1.0h-1.0zM518.0 349.0h1.0v1.0h-1.0zM535.0 336.0h1.0v1.0h-1.0zM532.0 354.0h1.0v1.0h-1.0zM512.0 364.0h1.0v1.0h-1.0zM534.0 344.0h1.0v1.0h-1.0zM535.0 366.0h1.0v1.0h-1.0zM525.0 331.0h1.0v1.0h-1.0zM523.0 370.0h1.0v1.0h-1.0zM515.0 343.0h1.0v1.0h-1.0zM533.0 330.0h1.0v1.0h-1.0zM535.0 351.0h1.0v1.0h-1.0zM526.0 368.0h1.0v1.0h-1.0zM511.0 362.0h1.0v1.0h-1.0zM537.0 359.0h1.0v1.0h-1.0zM537.0 339.0h1.0v1.0h-1.0zM535.0 352.0h1.0v1.0h-1.0zM516.0 364.0h1.0v1.0h-1.0zM536.0 334.0h1.0v1.0h-1.0zM528.0 370.0h1.0v1.0h-1.0zM540.0 349.0h1.0v1.0h-1.0zM519.0 359.0h1.0v1.0h-1.0zM524.0 354.0h1.0v1.0h-1.0zM542.0 336.0h1.0v1.0h-1.0zM531.0 352.0h1.0v1.0h-1.0zM533.0 364.0h1.0v1.0h-1.0zM521.0 364.0h1.0v1.0h-1.0zM543.0 340.0h1.0v1.0h-1.0zM525.0 336.0h1.0v1.0h-1.0zM529.0 357.0h1.0v1.0h-1.0zM524.0 337.0h1.0v1.0h-1.0zM541.0 330.0h1.0v1.0h-1.0zM527.0 358.0h1.0v1.0h-1.0zM521.0 371.0h1.0v1.0h-1.0zM531.0 352.0h1.0v1.0h-1.0zM549.0 310.0h1.0v1.0h-1.0zM555.0 290.0h1.0v1.0h-1.0zM555.0 294.0h1.0v1.0h-1.0zM558.0 299.0h1.0v1.0h-1.0zM552.0 306.0h1.0v1.0h-1.0zM548.0 295.0h1.0v1.0h-1.0zM552.0 307.0h1.0v1.0h-1.0zM549.0 286.0h1.0v1.0h-1.0zM548.0 285.0h1.0v1.0h-1.0zM532.0 293.0h1.0v1.0h-1.0zM549.0 296.0h1.0v1.0h-1.0zM540.0 303.0h1.0v1.0h-1.0zM557.0 297.0h1.0v1.0h-1.0zM540.0 314.0h1.0v1.0h-1.0zM544.0 319.0h1.0v1.0h-1.0zM545.0 282.0h1.0v1.0h-1.0zM546.0 290.0h1.0v1.0h-1.0zM541.0 306.0h1.0v1.0h-1.0zM537.0 302.0h1.0v1.0h-1.0zM538.0 297.0h1.0v1.0h-1.0zM538.0 305.0h1.0v1.0h-1.0zM535.0 293.0h1.0v1.0h-1.0zM531.0 285.0h1.0v1.0h-1.0zM548.0 298.0h1.0v1.0h-1.0zM539.0 297.0h1.0v1.0h-1.0zM545.0 315.0h1.0v1.0h-1.0zM557.0 279.0h1.0v1.0h-1.0zM537.0 289.0h1.0v1.0h-1.0zM533.0 294.0h1.0v1.0h-1.0zM541.0 283.0h1.0v1.0h-1.0zM535.0 296.0h1.0v1.0h-1.0zM547.0 300.0h1.0v1.0h-1.0zM548.0 284.0h1.0v1.0h-1.0zM560.0 296.0h1.0v1.0h-1.0zM549.0 284.0h1.0v1.0h-1.0zM534.0 291.0h1.0v1.0h-1.0zM559.0 297.0h1.0v1.0h-1.0zM551.0 306.0h1.0v1.0h-1.0zM546.0 296.0h1.0v1.0h-1.0zM539.0 303.0h1.0v1.0h-1.0zM541.0 290.0h1.0v1.0h-1.0zM545.0 292.0h1.0v1.0h-1.0zM536.0 300.0h1.0v1.0h-1.0zM536.0 291.0h1.0v1.0h-1.0zM551.0 306.0h1.0v1.0h-1.0zM544.0 295.0h1.0v1.0h-1.0zM555.0 278.0h1.0v1.0h-1.0zM546.0 313.0h1.0v1.0h-1.0zM558.0 279.0h1.0v1.0h-1.0zM538.0 314.0h1.0v1.0h-1.0zM543.0 311.0h1.0v1.0h-1.0zM546.0 290.0h1.0v1.0h-1.0zM546.0 299.0h1.0v1.0h-1.0zM529.0 288.0h1.0v1.0h-1.0zM554.0 281.0h1.0v1.0h-1.0zM136.0 518.0h1.0v1.0h-1.0zM141.0 540.0h1.0v1.0h-1.0zM131.0 514.0h1.0v1.0h-1.0zM139.0 534.0h1.0v1.0h-1.0zM136.0 542.0h1.0v1.0h-1.0zM140.0 545.0h1.0v1.0h-1.0zM130.0 513.0h1.0v1.0h-1.0zM138.0 520.0h1.0v1.0h-1.0zM143.0 536.0h1.0v1.0h-1.0zM138.0 534.0h1.0v1.0h-1.0zM141.0 542.0h1.0v1.0h-1.0zM133.0 538.0h1.0v1.0h-1.0zM136.0 546.0h1.0v1.0h-1.0zM139.0 529.0h1.0v1.0h-1.0zM133.0 537.0h1.0v1.0h-1.0zM135.0 519.0h1.0v1.0h-1.0zM138.0 548.0h1.0v1.0h-1.0zM141.0 542.0h1.0v1.0h-1.0zM140.0 517.0h1.0v1.0h-1.0zM134.0 514.0h1.0v1.0h-1.0zM134.0 533.0h1.0v1.0h-1.0zM136.0 529.0h1.0v1.0h-1.0zM136.0 529.0h1.0v1.0h-1.0zM134.0 518.0h1.0v1.0h-1.0zM141.0 538.0h1.0v1.0h-1.0zM141.0 535.0h1.0v1.0h-1.0zM135.0 515.0h1.0v1.0h-1.0zM138.0 516.0h1.0v1.0h-1.0zM138.0 539.0h1.0v1.0h-1.0zM135.0 520.0h1.0v1.0h-1.0zM141.0 543.0h1.0v1.0h-1.0zM140.0 540.0h1.0v1.0h-1.0zM138.0 515.0h1.0v1.0h-1.0zM135.0 523.0h1.0v1.0h-1.0zM132.0 514.0h1.0v1.0h-1.0zM134.0 548.0h1.0v1.0h-1.0zM143.0 538.0h1.0v1.0h-1.0zM134.0 545.0h1.0v1.0h-1.0zM135.0 515.0h1.0v1.0h-1.0zM141.0 541.0h1.0v1.0h-1.0zM134.0 543.0h1.0v1.0h-1.0zM135.0 520.0h1.0v1.0h-1.0zM134.0 512.0h1.0v1.0h-1.0zM133.0 548.0h1.0v1.0h-1.0zM139.0 537.0h1.0v1.0h-1.0zM133.0 520.0h1.0v1.0h-1.0zM141.0 535.0h1.0v1.0h-1.0zM138.0 527.0h1.0v1.0h-1.0zM136.0 547.0h1.0v1.0h-1.0zM139.0 535.0h1.0v1.0h-1.0zM136.0 523.0h1.0v1.0h-1.0zM135.0 549.0h1.0v1.0h-1.0zM138.0 538.0h1.0v1.0h-1.0zM134.0 519.0h1.0v1.0h-1.0zM135.0 518.0h1.0v1.0h-1.0zM132.0 519.0h1.0v1.0h-1.0zM135.0 514.0h1.0v1.0h-1.0zM134.0 517.0h1.0v1.0h-1.0zM137.0 547.0h1.0v1.0h-1.0zM139.0 521.0h1.0v1.0h-1.0zM136.0 528.0h1.0v1.0h-1.0zM135.0 512.0h1.0v1.0h-1.0zM134.0 545.0h1.0v1.0h-1.0zM139.0 535.0h1.0v1.0h-1.0zM137.0 518.0h1.0v1.0h-1.0zM134.0 525.0h1.0v1.0h-1.0zM134.0 525.0h1.0v1.0h-1.0zM141.0 540.0h1.0v1.0h-1.0zM140.0 535.0h1.0v1.0h-1.0zM142.0 533.0h1.0v1.0h-1.0zM140.0 545.0h1.0v1.0h-1.0zM138.0 528.0h1.0v1.0h-1.0zM137.0 527.0h1.0v1.0h-1.0zM133.0 529.0h1.0v1.0h-1.0zM131.0 514.0h1.0v1.0h-1.0zM137.0 522.0h1.0v1.0h-1.0zM135.0 545.0h1.0v1.0h-1.0zM130.0 511.0h1.0v1.0h-1.0zM136.0 531.0h1.0v1.0h-1.0zM137.0 516.0h1.0v1.0h-1.0zM136.0 513.0h1.0v1.0h-1.0zM133.0 527.0h1.0v1.0h-1.0zM138.0 522.0h1.0v1.0h-1.0zM141.0 533.0h1.0v1.0h-1.0zM139.0 514.0h1.0v1.0h-1.0zM137.0 536.0h1.0v1.0h-1.0zM161.0 479.0h1.0v1.0h-1.0zM150.0 489.0h1.0v1.0h-1.0zM160.0 479.0h1.0v1.0h-1.0zM152.0 486.0h1.0v1.0h-1.0zM155.0 481.0h1.0v1.0h-1.0zM155.0 483.0h1.0v1.0h-1.0zM156.0 486.0h1.0v1.0h-1.0zM154.0 487.0h1.0v1.0h-1.0zM162.0 480.0h1.0v1.0h-1.0zM164.0 482.0h1.0v1.0h-1.0zM164.0 484.0h1.0v1.0h-1.0zM152.0 492.0h1.0v1.0h-1.0zM151.0 486.0h1.0v1.0h-1.0zM165.0 481.0h1.0v1.0h-1.0zM164.0 485.0h1.0v1.0h-1.0zM159.0 482.0h1.0v1.0h-1.0zM166.0 482.0h1.0v1.0h-1.0zM158.0 480.0h1.0v1.0h-1.0zM152.0 484.0h1.0v1.0h-1.0zM165.0 483.0h1.0v1.0h-1.0zM153.0 487.0h1.0v1.0h-1.0zM149.0 489.0h1.0v1.0h-1.0zM162.0 484.0h1.0v1.0h-1.0zM157.0 486.0h1.0v1.0h-1.0zM162.0 480.0h1.0v1.0h-1.0zM161.0 482.0h1.0v1.0h-1.0zM164.0 481.0h1.0v1.0h-1.0zM150.0 490.0h1.0v1.0h-1.0zM151.0 485.0h1.0v1.0h-1.0zM151.0 492.0h1.0v1.0h-1.0zM165.0 480.0h1.0v1.0h-1.0zM162.0 482.0h1.0v1.0h-1.0zM160.0 479.0h1.0v1.0h-1.0zM156.0 487.0h1.0v1.0h-1.0zM185.0 467.0h1.0v1.0h-1.0zM189.0 470.0h1.0v1.0h-1.0zM179.0 474.0h1.0v1.0h-1.0zM179.0 473.0h1.0v1.0h-1.0zM190.0 465.0h1.0v1.0h-1.0zM184.0 471.0h1.0v1.0h-1.0zM181.0 469.0h1.0v1.0h-1.0zM187.0 473.0h1.0v1.0h-1.0zM189.0 467.0h1.0v1.0h-1.0zM188.0 462.0h1.0v1.0h-1.0zM185.0 465.0h1.0v1.0h-1.0zM190.0 460.0h1.0v1.0h-1.0zM192.0 466.0h1.0v1.0h-1.0zM191.0 466.0h1.0v1.0h-1.0zM182.0 470.0h1.0v1.0h-1.0zM191.0 467.0h1.0v1.0h-1.0zM180.0 476.0h1.0v1.0h-1.0zM188.0 457.0h1.0v1.0h-1.0zM177.0 473.0h1.0v1.0h-1.0zM190.0 467.0h1.0v1.0h-1.0zM193.0 464.0h1.0v1.0h-1.0zM182.0 465.0h1.0v1.0h-1.0zM179.0 475.0h1.0v1.0h-1.0zM181.0 467.0h1.0v1.0h-1.0zM178.0 472.0h1.0v1.0h-1.0zM178.0 474.0h1.0v1.0h-1.0zM187.0 466.0h1.0v1.0h-1.0zM179.0 470.0h1.0v1.0h-1.0zM190.0 461.0h1.0v1.0h-1.0zM181.0 473.0h1.0v1.0h-1.0zM181.0 465.0h1.0v1.0h-1.0zM217.0 456.0h1.0v1.0h-1.0zM223.0 456.0h1.0v1.0h-1.0zM228.0 452.0h1.0v1.0h-1.0zM225.0 462.0h1.0v1.0h-1.0zM212.0 459.0h1.0v1.0h-1.0zM225.0 462.0h1.0v1.0h-1.0zM212.0 457.0h1.0v1.0h-1.0zM227.0 455.0h1.0v1.0h-1.0zM216.0 452.0h1.0v1.0h-1.0zM206.0 462.0h1.0v1.0h-1.0zM234.0 461.0h1.0v1.0h-1.0zM213.0 460.0h1.0v1.0h-1.0zM226.0 450.0h1.0v1.0h-1.0zM222.0 461.0h1.0v1.0h-1.0zM231.0 455.0h1.0v1.0h-1.0zM205.0 460.0h1.0v1.0h-1.0zM228.0 458.0h1.0v1.0h-1.0zM226.0 463.0h1.0v1.0h-1.0zM519.0 350.0h1.0v1.0h-1.0zM537.0 340.0h1.0v1.0h-1.0zM533.0 351.0h1.0v1.0h-1.0zM526.0 363.0h1.0v1.0h-1.0zM522.0 342.0h1.0v1.0h-1.0zM535.0 338.0h1.0v1.0h-1.0zM525.0 364.0h1.0v1.0h-1.0zM525.0 347.0h1.0v1.0h-1.0zM527.0 348.0h1.0v1.0h-1.0zM528.0 351.0h1.0v1.0h-1.0zM537.0 331.0h1.0v1.0h-1.0zM524.0 366.0h1.0v1.0h-1.0zM520.0 349.0h1.0v1.0h-1.0zM528.0 366.0h1.0v1.0h-1.0zM528.0 350.0h1.0v1.0h-1.0zM529.0 354.0h1.0v1.0h-1.0zM520.0 361.0h1.0v1.0h-1.0zM524.0 365.0h1.0v1.0h-1.0zM521.0 354.0h1.0v1.0h-1.0zM519.0 367.0h1.0v1.0h-1.0zM515.0 363.0h1.0v1.0h-1.0zM528.0 359.0h1.0v1.0h-1.0zM526.0 332.0h1.0v1.0h-1.0zM525.0 333.0h1.0v1.0h-1.0zM517.0 361.0h1.0v1.0h-1.0zM522.0 362.0h1.0v1.0h-1.0zM518.0 357.0h1.0v1.0h-1.0zM541.0 338.0h1.0v1.0h-1.0zM516.0 363.0h1.0v1.0h-1.0zM517.0 343.0h1.0v1.0h-1.0zM517.0 349.0h1.0v1.0h-1.0zM520.0 355.0h1.0v1.0h-1.0zM521.0 354.0h1.0v1.0h-1.0zM512.0 356.0h1.0v1.0h-1.0zM531.0 343.0h1.0v1.0h-1.0zM524.0 332.0h1.0v1.0h-1.0zM527.0 337.0h1.0v1.0h-1.0zM526.0 362.0h1.0v1.0h-1.0zM521.0 348.0h1.0v1.0h-1.0zM522.0 368.0h1.0v1.0h-1.0zM516.0 358.0h1.0v1.0h-1.0zM532.0 338.0h1.0v1.0h-1.0zM514.0 355.0h1.0v1.0h-1.0zM530.0 342.0h1.0v1.0h-1.0zM514.0 349.0h1.0v1.0h-1.0zM537.0 331.0h1.0v1.0h-1.0zM519.0 359.0h1.0v1.0h-1.0zM520.0 352.0h1.0v1.0h-1.0zM520.0 340.0h1.0v1.0h-1.0zM523.0 359.0h1.0v1.0h-1.0zM531.0 343.0h1.0v1.0h-1.0zM524.0 356.0h1.0v1.0h-1.0zM534.0 334.0h1.0v1.0h-1.0zM283.0 463.0h1.0v1.0h-1.0zM275.0 468.0h1.0v1.0h-1.0zM273.0 467.0h1.0v1.0h-1.0zM270.0 464.0h1.0v1.0h-1.0zM276.0 462.0h1.0v1.0h-1.0zM280.0 462.0h1.0v1.0h-1.0zM270.0 461.0h1.0v1.0h-1.0zM272.0 465.0h1.0v1.0h-1.0z"/>
<path fill="#FFC900" d="M138.0 519.0h1.0v1.0h-1.0zM184.0 473.0h1.0v1.0h-1.0zM355.0 452.0h1.0v1.0h-1.0zM388.0 457.0h1.0v1.0h-1.0zM389.0 456.0h1.0v2.0h-1.0zM395.0 459.0h1.0v1.0h-1.0zM411.0 468.0h1.0v1.0h-1.0zM418.0 485.0h1.0v1.0h-1.0zM419.0 507.0h1.0v1.0h-1.0zM420.0 508.0h2.0v1.0h-2.0zM433.0 529.0h2.0v1.0h-2.0zM435.0 532.0h2.0v1.0h-2.0zM437.0 535.0h2.0v2.0h-2.0zM464.0 531.0h2.0v1.0h-2.0zM464.0 524.0h1.0v1.0h-1.0zM452.0 481.0h2.0v1.0h-2.0zM450.0 477.0h1.0v1.0h-1.0zM447.0 471.0h1.0v1.0h-1.0zM446.0 470.0h1.0v1.0h-1.0zM443.0 462.0h1.0v2.0h-1.0zM440.0 455.0h1.0v1.0h-1.0zM441.0 453.0h2.0v2.0h-2.0zM443.0 433.0h1.0v1.0h-1.0zM454.0 418.0h2.0v1.0h-2.0zM462.0 413.0h1.0v2.0h-1.0zM578.0 265.0h2.0v1.0h-2.0zM636.0 247.0h2.0v2.0h-2.0zM282.0 449.0h1.0v1.0h-1.0zM256.0 448.0h1.0v1.0h-1.0zM251.0 468.0h1.0v1.0h-1.0zM270.0 467.0h1.0v1.0h-1.0zM277.0 455.0h1.0v1.0h-1.0zM228.0 457.0h1.0v1.0h-1.0zM274.0 470.0h1.0v1.0h-1.0zM224.0 449.0h1.0v1.0h-1.0zM285.0 474.0h1.0v1.0h-1.0zM257.0 461.0h1.0v1.0h-1.0zM281.0 452.0h1.0v1.0h-1.0zM257.0 458.0h1.0v1.0h-1.0zM225.0 464.0h1.0v1.0h-1.0zM256.0 462.0h1.0v1.0h-1.0zM280.0 462.0h1.0v1.0h-1.0zM253.0 469.0h1.0v1.0h-1.0zM220.0 462.0h1.0v1.0h-1.0zM229.0 461.0h1.0v1.0h-1.0zM254.0 448.0h1.0v1.0h-1.0zM273.0 454.0h1.0v1.0h-1.0zM250.0 464.0h1.0v1.0h-1.0zM516.0 352.0h1.0v1.0h-1.0zM542.0 347.0h1.0v1.0h-1.0zM534.0 331.0h1.0v1.0h-1.0zM539.0 344.0h1.0v1.0h-1.0zM533.0 345.0h1.0v1.0h-1.0zM512.0 374.0h1.0v1.0h-1.0zM530.0 362.0h1.0v1.0h-1.0zM531.0 355.0h1.0v1.0h-1.0zM528.0 353.0h1.0v1.0h-1.0zM537.0 332.0h1.0v1.0h-1.0zM521.0 335.0h1.0v1.0h-1.0zM530.0 334.0h1.0v1.0h-1.0zM519.0 362.0h1.0v1.0h-1.0zM536.0 356.0h1.0v1.0h-1.0zM536.0 335.0h1.0v1.0h-1.0zM532.0 361.0h1.0v1.0h-1.0zM529.0 334.0h1.0v1.0h-1.0zM519.0 357.0h1.0v1.0h-1.0zM538.0 344.0h1.0v1.0h-1.0zM518.0 347.0h1.0v1.0h-1.0zM186.0 469.0h1.0v1.0h-1.0zM183.0 467.0h1.0v1.0h-1.0zM187.0 459.0h1.0v1.0h-1.0zM183.0 465.0h1.0v1.0h-1.0zM187.0 462.0h1.0v1.0h-1.0zM190.0 460.0h1.0v1.0h-1.0zM191.0 467.0h1.0v1.0h-1.0zM188.0 470.0h1.0v1.0h-1.0zM178.0 472.0h1.0v1.0h-1.0zM230.0 458.0h1.0v1.0h-1.0zM206.0 458.0h1.0v1.0h-1.0zM227.0 460.0h1.0v1.0h-1.0zM222.0 454.0h1.0v1.0h-1.0zM220.0 454.0h1.0v1.0h-1.0zM212.0 456.0h1.0v1.0h-1.0zM216.0 456.0h1.0v1.0h-1.0zM226.0 459.0h1.0v1.0h-1.0zM234.0 459.0h1.0v1.0h-1.0zM219.0 452.0h1.0v1.0h-1.0zM234.0 460.0h1.0v1.0h-1.0zM208.0 458.0h1.0v1.0h-1.0zM226.0 458.0h1.0v1.0h-1.0zM205.0 462.0h1.0v1.0h-1.0zM527.0 365.0h1.0v1.0h-1.0zM518.0 359.0h1.0v1.0h-1.0zM526.0 363.0h1.0v1.0h-1.0zM513.0 349.0h1.0v1.0h-1.0zM525.0 350.0h1.0v1.0h-1.0zM519.0 346.0h1.0v1.0h-1.0zM520.0 348.0h1.0v1.0h-1.0zM526.0 351.0h1.0v1.0h-1.0zM513.0 349.0h1.0v1.0h-1.0zM526.0 335.0h1.0v1.0h-1.0zM515.0 350.0h1.0v1.0h-1.0zM526.0 332.0h1.0v1.0h-1.0zM520.0 355.0h1.0v1.0h-1.0zM516.0 360.0h1.0v1.0h-1.0zM270.0 458.0h1.0v1.0h-1.0zM273.0 462.0h1.0v1.0h-1.0zM270.0 465.0h1.0v1.0h-1.0zM272.0 458.0h1.0v1.0h-1.0zM278.0 470.0h1.0v1.0h-1.0zM275.0 469.0h1.0v1.0h-1.0zM270.0 471.0h1.0v1.0h-1.0zM267.0 463.0h1.0v1.0h-1.0zM271.0 464.0h1.0v1.0h-1.0z"/>
<path fill="#FF4000" d="M140.0 507.0h1.0v2.0h-1.0zM152.0 491.0h1.0v1.0h-1.0zM152.0 491.0h1.0v1.0h-1.0zM160.0 486.0h1.0v2.0h-1.0zM299.0 459.0h2.0v1.0h-2.0zM297.0 453.0h1.0v1.0h-1.0zM328.0 451.0h2.0v2.0h-2.0zM359.0 455.0h2.0v1.0h-2.0zM403.0 462.0h1.0v1.0h-1.0zM417.0 480.0h1.0v1.0h-1.0zM416.0 497.0h1.0v2.0h-1.0zM428.0 522.0h1.0v1.0h-1.0zM426.0 521.0h1.0v1.0h-1.0zM432.0 526.0h1.0v1.0h-1.0zM461.0 540.0h1.0v1.0h-1.0zM447.0 471.0h1.0v1.0h-1.0zM443.0 460.0h1.0v2.0h-1.0zM440.0 451.0h2.0v2.0h-2.0zM439.0 439.0h1.0v2.0h-1.0zM447.0 427.0h1.0v2.0h-1.0zM452.0 421.0h1.0v1.0h-1.0zM470.0 406.0h2.0v1.0h-2.0zM472.0 404.0h2.0v1.0h-2.0zM483.0 394.0h1.0v1.0h-1.0zM484.0 394.0h1.0v1.0h-1.0zM496.0 386.0h1.0v1.0h-1.0zM500.0 385.0h1.0v1.0h-1.0zM572.0 279.0h2.0v1.0h-2.0zM626.0 246.0h1.0v1.0h-1.0z"/>
<path fill="#DAFF25" d="M145.0 498.0h1.0v2.0h-1.0zM163.0 485.0h2.0v2.0h-2.0zM191.0 469.0h2.0v2.0h-2.0zM197.0 466.0h2.0v2.0h-2.0zM328.0 451.0h2.0v2.0h-2.0zM365.0 459.0h1.0v1.0h-1.0zM385.0 457.0h1.0v1.0h-1.0zM407.0 464.0h1.0v2.0h-1.0zM406.0 464.0h1.0v1.0h-1.0zM416.0 476.0h1.0v1.0h-1.0zM415.0 499.0h1.0v2.0h-1.0zM417.0 502.0h2.0v1.0h-2.0zM418.0 506.0h1.0v1.0h-1.0zM420.0 508.0h2.0v1.0h-2.0zM419.0 505.0h1.0v1.0h-1.0zM423.0 515.0h1.0v1.0h-1.0zM463.0 528.0h1.0v1.0h-1.0zM464.0 526.0h1.0v1.0h-1.0zM464.0 527.0h1.0v1.0h-1.0zM464.0 517.0h1.0v1.0h-1.0zM463.0 521.0h1.0v1.0h-1.0zM458.0 497.0h2.0v1.0h-2.0zM446.0 468.0h1.0v1.0h-1.0zM449.0 423.0h2.0v1.0h-2.0zM455.0 417.0h1.0v2.0h-1.0zM477.0 400.0h1.0v1.0h-1.0zM478.0 400.0h2.0v1.0h-2.0zM492.0 388.0h2.0v1.0h-2.0zM491.0 388.0h2.0v2.0h-2.0zM636.0 246.0h1.0v1.0h-1.0zM644.0 208.0h2.0v2.0h-2.0zM418.0 498.0h1.0v1.0h-1.0zM426.0 516.0h1.0v1.0h-1.0zM424.0 504.0h1.0v1.0h-1.0zM423.0 512.0h1.0v1.0h-1.0zM427.0 514.0h1.0v1.0h-1.0zM423.0 501.0h1.0v1.0h-1.0zM420.0 499.0h1.0v1.0h-1.0zM420.0 495.0h1.0v1.0h-1.0zM538.0 354.0h1.0v1.0h-1.0zM518.0 370.0h1.0v1.0h-1.0zM516.0 368.0h1.0v1.0h-1.0zM537.0 362.0h1.0v1.0h-1.0zM532.0 340.0h1.0v1.0h-1.0zM520.0 340.0h1.0v1.0h-1.0zM515.0 354.0h1.0v1.0h-1.0zM535.0 361.0h1.0v1.0h-1.0zM515.0 349.0h1.0v1.0h-1.0zM533.0 343.0h1.0v1.0h-1.0zM516.0 363.0h1.0v1.0h-1.0zM518.0 361.0h1.0v1.0h-1.0zM529.0 370.0h1.0v1.0h-1.0zM529.0 346.0h1.0v1.0h-1.0zM543.0 340.0h1.0v1.0h-1.0zM518.0 359.0h1.0v1.0h-1.0zM526.0 361.0h1.0v1.0h-1.0zM286.0 470.0h1.0v1.0h-1.0zM224.0 464.0h1.0v1.0h-1.0zM256.0 472.0h1.0v1.0h-1.0zM278.0 463.0h1.0v1.0h-1.0zM293.0 473.0h1.0v1.0h-1.0zM235.0 464.0h1.0v1.0h-1.0zM246.0 465.0h1.0v1.0h-1.0zM261.0 472.0h1.0v1.0h-1.0zM282.0 469.0h1.0v1.0h-1.0zM256.0 467.0h1.0v1.0h-1.0zM254.0 471.0h1.0v1.0h-1.0zM256.0 471.0h1.0v1.0h-1.0zM230.0 463.0h1.0v1.0h-1.0zM264.0 472.0h1.0v1.0h-1.0zM252.0 466.0h1.0v1.0h-1.0zM227.0 462.0h1.0v1.0h-1.0zM243.0 462.0h1.0v1.0h-1.0zM265.0 466.0h1.0v1.0h-1.0zM226.0 460.0h1.0v1.0h-1.0zM272.0 458.0h1.0v1.0h-1.0zM267.0 465.0h1.0v1.0h-1.0zM278.0 468.0h1.0v1.0h-1.0z"/>
<path fill="#FFF600" d="M181.0 476.0h1.0v1.0h-1.0zM189.0 471.0h1.0v1.0h-1.0zM359.0 454.0h1.0v1.0h-1.0zM384.0 457.0h1.0v1.0h-1.0zM393.0 458.0h1.0v2.0h-1.0zM410.0 468.0h1.0v2.0h-1.0zM415.0 474.0h1.0v1.0h-1.0zM418.0 480.0h1.0v1.0h-1.0zM426.0 520.0h1.0v1.0h-1.0zM432.0 527.0h2.0v1.0h-2.0zM464.0 535.0h1.0v1.0h-1.0zM460.0 504.0h1.0v1.0h-1.0zM458.0 497.0h2.0v1.0h-2.0zM470.0 405.0h1.0v1.0h-1.0zM470.0 405.0h1.0v2.0h-1.0zM482.0 396.0h1.0v1.0h-1.0zM503.0 385.0h1.0v2.0h-1.0zM496.0 386.0h1.0v1.0h-1.0zM500.0 386.0h1.0v1.0h-1.0zM508.0 381.0h1.0v2.0h-1.0zM514.0 374.0h1.0v1.0h-1.0zM524.0 371.0h1.0v2.0h-1.0zM527.0 372.0h1.0v2.0h-1.0zM592.0 257.0h1.0v1.0h-1.0zM598.0 256.0h1.0v2.0h-1.0zM632.0 241.0h1.0v1.0h-1.0zM408.0 468.0h1.0v1.0h-1.0zM401.0 461.0h1.0v1.0h-1.0zM414.0 474.0h1.0v1.0h-1.0zM417.0 472.0h1.0v1.0h-1.0zM417.0 481.0h1.0v1.0h-1.0zM420.0 481.0h1.0v1.0h-1.0zM416.0 469.0h1.0v1.0h-1.0zM409.0 466.0h1.0v1.0h-1.0zM415.0 472.0h1.0v1.0h-1.0zM410.0 469.0h1.0v1.0h-1.0zM403.0 460.0h1.0v1.0h-1.0zM401.0 460.0h1.0v1.0h-1.0zM409.0 468.0h1.0v1.0h-1.0zM416.0 470.0h1.0v1.0h-1.0zM409.0 468.0h1.0v1.0h-1.0zM412.0 472.0h1.0v1.0h-1.0zM402.0 459.0h1.0v1.0h-1.0zM419.0 482.0h1.0v1.0h-1.0zM412.0 469.0h1.0v1.0h-1.0zM405.0 460.0h1.0v1.0h-1.0zM408.0 460.0h1.0v1.0h-1.0zM417.0 472.0h1.0v1.0h-1.0zM405.0 460.0h1.0v1.0h-1.0zM419.0 501.0h1.0v1.0h-1.0zM428.0 521.0h1.0v1.0h-1.0zM415.0 495.0h1.0v1.0h-1.0zM421.0 504.0h1.0v1.0h-1.0zM418.0 503.0h1.0v1.0h-1.0zM425.0 516.0h1.0v1.0h-1.0zM419.0 506.0h1.0v1.0h-1.0zM427.0 516.0h1.0v1.0h-1.0zM423.0 510.0h1.0v1.0h-1.0zM257.0 468.0h1.0v1.0h-1.0zM253.0 444.0h1.0v1.0h-1.0zM286.0 469.0h1.0v1.0h-1.0zM279.0 467.0h1.0v1.0h-1.0zM271.0 460.0h1.0v1.0h-1.0zM247.0 457.0h1.0v1.0h-1.0zM246.0 447.0h1.0v1.0h-1.0zM242.0 444.0h1.0v1.0h-1.0zM265.0 461.0h1.0v1.0h-1.0zM294.0 462.0h1.0v1.0h-1.0zM224.0 457.0h1.0v1.0h-1.0zM282.0 458.0h1.0v1.0h-1.0zM216.0 464.0h1.0v1.0h-1.0zM219.0 454.0h1.0v1.0h-1.0zM277.0 452.0h1.0v1.0h-1.0zM237.0 454.0h1.0v1.0h-1.0zM266.0 464.0h1.0v1.0h-1.0zM268.0 471.0h1.0v1.0h-1.0zM282.0 468.0h1.0v1.0h-1.0zM134.0 545.0h1.0v1.0h-1.0zM134.0 538.0h1.0v1.0h-1.0zM140.0 540.0h1.0v1.0h-1.0zM136.0 538.0h1.0v1.0h-1.0zM131.0 518.0h1.0v1.0h-1.0zM144.0 535.0h1.0v1.0h-1.0zM133.0 546.0h1.0v1.0h-1.0zM136.0 509.0h1.0v1.0h-1.0zM133.0 531.0h1.0v1.0h-1.0zM134.0 543.0h1.0v1.0h-1.0zM139.0 538.0h1.0v1.0h-1.0zM140.0 530.0h1.0v1.0h-1.0zM137.0 511.0h1.0v1.0h-1.0zM133.0 511.0h1.0v1.0h-1.0zM141.0 537.0h1.0v1.0h-1.0zM134.0 515.0h1.0v1.0h-1.0zM142.0 537.0h1.0v1.0h-1.0zM139.0 548.0h1.0v1.0h-1.0zM140.0 545.0h1.0v1.0h-1.0zM162.0 485.0h1.0v1.0h-1.0zM148.0 490.0h1.0v1.0h-1.0zM159.0 482.0h1.0v1.0h-1.0zM152.0 486.0h1.0v1.0h-1.0zM163.0 485.0h1.0v1.0h-1.0zM156.0 487.0h1.0v1.0h-1.0zM159.0 482.0h1.0v1.0h-1.0zM160.0 482.0h1.0v1.0h-1.0zM161.0 484.0h1.0v1.0h-1.0zM153.0 481.0h1.0v1.0h-1.0zM164.0 483.0h1.0v1.0h-1.0zM227.0 454.0h1.0v1.0h-1.0zM226.0 461.0h1.0v1.0h-1.0zM215.0 455.0h1.0v1.0h-1.0zM229.0 458.0h1.0v1.0h-1.0zM219.0 456.0h1.0v1.0h-1.0zM202.0 462.0h1.0v1.0h-1.0zM227.0 462.0h1.0v1.0h-1.0zM209.0 461.0h1.0v1.0h-1.0zM222.0 461.0h1.0v1.0h-1.0zM206.0 456.0h1.0v1.0h-1.0zM217.0 459.0h1.0v1.0h-1.0zM248.0 463.0h1.0v1.0h-1.0zM231.0 464.0h1.0v1.0h-1.0zM282.0 463.0h1.0v1.0h-1.0zM283.0 469.0h1.0v1.0h-1.0zM267.0 471.0h1.0v1.0h-1.0zM260.0 472.0h1.0v1.0h-1.0zM287.0 473.0h1.0v1.0h-1.0zM249.0 467.0h1.0v1.0h-1.0zM260.0 473.0h1.0v1.0h-1.0zM282.0 471.0h1.0v1.0h-1.0zM246.0 464.0h1.0v1.0h-1.0zM258.0 472.0h1.0v1.0h-1.0zM270.0 456.0h1.0v1.0h-1.0zM231.0 460.0h1.0v1.0h-1.0zM209.0 462.0h1.0v1.0h-1.0zM274.0 467.0h1.0v1.0h-1.0zM266.0 459.0h1.0v1.0h-1.0zM216.0 461.0h1.0v1.0h-1.0zM272.0 461.0h1.0v1.0h-1.0zM284.0 465.0h1.0v1.0h-1.0zM264.0 471.0h1.0v1.0h-1.0zM285.0 467.0h1.0v1.0h-1.0zM279.0 467.0h1.0v1.0h-1.0zM277.0 468.0h1.0v1.0h-1.0zM250.0 466.0h1.0v1.0h-1.0zM275.0 467.0h1.0v1.0h-1.0zM276.0 471.0h1.0v1.0h-1.0zM283.0 466.0h1.0v1.0h-1.0zM280.0 461.0h1.0v1.0h-1.0zM270.0 459.0h1.0v1.0h-1.0zM275.0 464.0h1.0v1.0h-1.0zM273.0 464.0h1.0v1.0h-1.0zM281.0 464.0h1.0v1.0h-1.0zM279.0 462.0h1.0v1.0h-1.0zM285.0 464.0h1.0v1.0h-1.0zM270.0 461.0h1.0v1.0h-1.0zM275.0 461.0h1.0v1.0h-1.0zM277.0 465.0h1.0v1.0h-1.0zM271.0 472.0h1.0v1.0h-1.0zM280.0 462.0h1.0v1.0h-1.0zM275.0 463.0h1.0v1.0h-1.0zM280.0 469.0h1.0v1.0h-1.0zM275.0 460.0h1.0v1.0h-1.0zM273.0 464.0h1.0v1.0h-1.0zM276.0 471.0h1.0v1.0h-1.0zM267.0 462.0h1.0v1.0h-1.0z"/>
<path fill="#E8E8E8" d="M439.0 528.0h1.0v1.0h-1.0zM459.0 523.0h1.0v1.0h-1.0zM455.0 521.0h1.0v1.0h-1.0zM446.0 513.0h1.0v1.0h-1.0zM455.0 531.0h1.0v1.0h-1.0zM457.0 530.0h1.0v1.0h-1.0zM440.0 534.0h1.0v1.0h-1.0zM452.0 523.0h1.0v1.0h-1.0zM453.0 524.0h1.0v1.0h-1.0zM437.0 527.0h1.0v1.0h-1.0zM446.0 536.0h1.0v1.0h-1.0zM453.0 521.0h1.0v1.0h-1.0zM450.0 517.0h1.0v1.0h-1.0zM452.0 527.0h1.0v1.0h-1.0zM454.0 513.0h1.0v1.0h-1.0zM453.0 523.0h1.0v1.0h-1.0zM458.0 514.0h1.0v1.0h-1.0zM453.0 523.0h1.0v1.0h-1.0zM456.0 524.0h1.0v1.0h-1.0zM450.0 535.0h1.0v1.0h-1.0zM454.0 521.0h1.0v1.0h-1.0zM447.0 516.0h1.0v1.0h-1.0zM444.0 515.0h1.0v1.0h-1.0zM458.0 526.0h1.0v1.0h-1.0zM455.0 532.0h1.0v1.0h-1.0zM462.0 520.0h1.0v1.0h-1.0zM446.0 523.0h1.0v1.0h-1.0zM439.0 521.0h1.0v1.0h-1.0zM444.0 527.0h1.0v1.0h-1.0zM455.0 527.0h1.0v1.0h-1.0zM459.0 534.0h1.0v1.0h-1.0zM445.0 511.0h1.0v1.0h-1.0zM435.0 526.0h1.0v1.0h-1.0zM441.0 531.0h1.0v1.0h-1.0zM462.0 529.0h1.0v1.0h-1.0zM459.0 526.0h1.0v1.0h-1.0zM449.0 528.0h1.0v1.0h-1.0zM436.0 523.0h1.0v1.0h-1.0zM449.0 528.0h1.0v1.0h-1.0zM456.0 526.0h1.0v1.0h-1.0zM453.0 514.0h1.0v1.0h-1.0zM459.0 534.0h1.0v1.0h-1.0zM435.0 528.0h1.0v1.0h-1.0zM451.0 530.0h1.0v1.0h-1.0zM465.0 529.0h1.0v1.0h-1.0zM450.0 533.0h1.0v1.0h-1.0zM443.0 514.0h1.0v1.0h-1.0zM449.0 517.0h1.0v1.0h-1.0zM452.0 531.0h1.0v1.0h-1.0zM444.0 519.0h1.0v1.0h-1.0zM453.0 525.0h1.0v1.0h-1.0zM437.0 527.0h1.0v1.0h-1.0zM437.0 526.0h1.0v1.0h-1.0zM436.0 530.0h1.0v1.0h-1.0zM449.0 524.0h1.0v1.0h-1.0zM445.0 526.0h1.0v1.0h-1.0zM446.0 521.0h1.0v1.0h-1.0zM447.0 516.0h1.0v1.0h-1.0zM462.0 532.0h1.0v1.0h-1.0zM447.0 531.0h1.0v1.0h-1.0zM443.0 518.0h1.0v1.0h-1.0zM458.0 529.0h1.0v1.0h-1.0z"/>
<path fill="#D3D3D3" d="M443.0 532.0h1.0v1.0h-1.0zM450.0 531.0h1.0v1.0h-1.0zM445.0 525.0h1.0v1.0h-1.0zM438.0 530.0h1.0v1.0h-1.0zM458.0 520.0h1.0v1.0h-1.0zM449.0 512.0h1.0v1.0h-1.0zM437.0 531.0h1.0v1.0h-1.0zM448.0 524.0h1.0v1.0h-1.0zM441.0 530.0h1.0v1.0h-1.0zM451.0 524.0h1.0v1.0h-1.0zM447.0 519.0h1.0v1.0h-1.0zM449.0 518.0h1.0v1.0h-1.0zM437.0 529.0h1.0v1.0h-1.0zM445.0 534.0h1.0v1.0h-1.0zM458.0 534.0h1.0v1.0h-1.0zM459.0 530.0h1.0v1.0h-1.0zM450.0 527.0h1.0v1.0h-1.0zM452.0 533.0h1.0v1.0h-1.0zM450.0 527.0h1.0v1.0h-1.0zM459.0 530.0h1.0v1.0h-1.0zM460.0 527.0h1.0v1.0h-1.0zM447.0 514.0h1.0v1.0h-1.0zM461.0 527.0h1.0v1.0h-1.0zM464.0 529.0h1.0v1.0h-1.0zM454.0 534.0h1.0v1.0h-1.0zM460.0 531.0h1.0v1.0h-1.0zM462.0 522.0h1.0v1.0h-1.0zM447.0 528.0h1.0v1.0h-1.0zM448.0 513.0h1.0v1.0h-1.0zM463.0 520.0h1.0v1.0h-1.0zM453.0 514.0h1.0v1.0h-1.0zM440.0 529.0h1.0v1.0h-1.0zM458.0 531.0h1.0v1.0h-1.0zM446.0 533.0h1.0v1.0h-1.0zM453.0 529.0h1.0v1.0h-1.0zM446.0 518.0h1.0v1.0h-1.0zM459.0 531.0h1.0v1.0h-1.0zM444.0 523.0h1.0v1.0h-1.0zM440.0 526.0h1.0v1.0h-1.0zM464.0 519.0h1.0v1.0h-1.0zM454.0 521.0h1.0v1.0h-1.0zM454.0 526.0h1.0v1.0h-1.0zM450.0 533.0h1.0v1.0h-1.0zM452.0 520.0h1.0v1.0h-1.0zM448.0 516.0h1.0v1.0h-1.0zM436.0 522.0h1.0v1.0h-1.0zM445.0 526.0h1.0v1.0h-1.0zM459.0 516.0h1.0v1.0h-1.0zM444.0 518.0h1.0v1.0h-1.0zM456.0 512.0h1.0v1.0h-1.0zM463.0 529.0h1.0v1.0h-1.0zM435.0 523.0h1.0v1.0h-1.0zM462.0 523.0h1.0v1.0h-1.0zM452.0 517.0h1.0v1.0h-1.0zM439.0 520.0h1.0v1.0h-1.0zM447.0 526.0h1.0v1.0h-1.0zM439.0 525.0h1.0v1.0h-1.0zM450.0 511.0h1.0v1.0h-1.0zM447.0 533.0h1.0v1.0h-1.0zM463.0 533.0h1.0v1.0h-1.0zM454.0 511.0h1.0v1.0h-1.0zM444.0 517.0h1.0v1.0h-1.0zM443.0 527.0h1.0v1.0h-1.0zM460.0 519.0h1.0v1.0h-1.0zM446.0 510.0h1.0v1.0h-1.0zM463.0 524.0h1.0v1.0h-1.0zM464.0 521.0h1.0v1.0h-1.0zM460.0 515.0h1.0v1.0h-1.0zM445.0 522.0h1.0v1.0h-1.0zM462.0 524.0h1.0v1.0h-1.0zM464.0 520.0h1.0v1.0h-1.0zM463.0 531.0h1.0v1.0h-1.0zM446.0 529.0h1.0v1.0h-1.0zM463.0 524.0h1.0v1.0h-1.0zM458.0 535.0h1.0v1.0h-1.0zM441.0 525.0h1.0v1.0h-1.0zM451.0 531.0h1.0v1.0h-1.0zM462.0 535.0h1.0v1.0h-1.0zM447.0 527.0h1.0v1.0h-1.0zM457.0 527.0h1.0v1.0h-1.0zM440.0 532.0h1.0v1.0h-1.0zM461.0 515.0h1.0v1.0h-1.0zM461.0 517.0h1.0v1.0h-1.0zM457.0 531.0h1.0v1.0h-1.0zM458.0 531.0h1.0v1.0h-1.0zM452.0 518.0h1.0v1.0h-1.0zM457.0 516.0h1.0v1.0h-1.0zM438.0 532.0h1.0v1.0h-1.0zM449.0 529.0h1.0v1.0h-1.0zM463.0 523.0h1.0v1.0h-1.0zM436.0 528.0h1.0v1.0h-1.0zM456.0 525.0h1.0v1.0h-1.0zM448.0 523.0h1.0v1.0h-1.0zM462.0 530.0h1.0v1.0h-1.0zM449.0 514.0h1.0v1.0h-1.0zM444.0 518.0h1.0v1.0h-1.0zM464.0 522.0h1.0v1.0h-1.0zM438.0 526.0h1.0v1.0h-1.0zM450.0 512.0h1.0v1.0h-1.0zM456.0 515.0h1.0v1.0h-1.0zM452.0 512.0h1.0v1.0h-1.0zM456.0 531.0h1.0v1.0h-1.0zM445.0 530.0h1.0v1.0h-1.0zM452.0 511.0h1.0v1.0h-1.0zM458.0 525.0h1.0v1.0h-1.0zM435.0 527.0h1.0v1.0h-1.0zM460.0 517.0h1.0v1.0h-1.0zM454.0 527.0h1.0v1.0h-1.0zM264.0 469.0h1.0v1.0h-1.0zM227.0 455.0h1.0v1.0h-1.0zM253.0 454.0h1.0v1.0h-1.0zM244.0 461.0h1.0v1.0h-1.0zM258.0 454.0h1.0v1.0h-1.0zM218.0 451.0h1.0v1.0h-1.0zM241.0 465.0h1.0v1.0h-1.0zM238.0 458.0h1.0v1.0h-1.0zM241.0 461.0h1.0v1.0h-1.0zM221.0 460.0h1.0v1.0h-1.0zM267.0 449.0h1.0v1.0h-1.0zM278.0 461.0h1.0v1.0h-1.0zM259.0 471.0h1.0v1.0h-1.0zM270.0 451.0h1.0v1.0h-1.0zM247.0 456.0h1.0v1.0h-1.0zM267.0 465.0h1.0v1.0h-1.0zM273.0 453.0h1.0v1.0h-1.0zM242.0 445.0h1.0v1.0h-1.0zM245.0 443.0h1.0v1.0h-1.0zM253.0 459.0h1.0v1.0h-1.0zM253.0 453.0h1.0v1.0h-1.0zM246.0 451.0h1.0v1.0h-1.0zM246.0 447.0h1.0v1.0h-1.0zM249.0 447.0h1.0v1.0h-1.0zM256.0 447.0h1.0v1.0h-1.0zM247.0 449.0h1.0v1.0h-1.0zM252.0 458.0h1.0v1.0h-1.0zM248.0 446.0h1.0v1.0h-1.0zM243.0 447.0h1.0v1.0h-1.0zM246.0 453.0h1.0v1.0h-1.0zM244.0 447.0h1.0v1.0h-1.0zM245.0 444.0h1.0v1.0h-1.0zM252.0 456.0h1.0v1.0h-1.0zM255.0 454.0h1.0v1.0h-1.0zM248.0 446.0h1.0v1.0h-1.0zM263.0 463.0h1.0v1.0h-1.0zM254.0 455.0h1.0v1.0h-1.0zM246.0 447.0h1.0v1.0h-1.0zM249.0 451.0h1.0v1.0h-1.0zM257.0 456.0h1.0v1.0h-1.0zM248.0 456.0h1.0v1.0h-1.0zM258.0 462.0h1.0v1.0h-1.0zM248.0 455.0h1.0v1.0h-1.0zM250.0 447.0h1.0v1.0h-1.0zM249.0 449.0h1.0v1.0h-1.0zM244.0 447.0h1.0v1.0h-1.0zM256.0 458.0h1.0v1.0h-1.0zM248.0 453.0h1.0v1.0h-1.0zM248.0 449.0h1.0v1.0h-1.0zM254.0 452.0h1.0v1.0h-1.0zM247.0 446.0h1.0v1.0h-1.0zM248.0 453.0h1.0v1.0h-1.0zM248.0 451.0h1.0v1.0h-1.0zM254.0 447.0h1.0v1.0h-1.0zM259.0 464.0h1.0v1.0h-1.0zM253.0 453.0h1.0v1.0h-1.0zM252.0 449.0h1.0v1.0h-1.0zM256.0 448.0h1.0v1.0h-1.0zM252.0 451.0h1.0v1.0h-1.0zM250.0 452.0h1.0v1.0h-1.0zM257.0 462.0h1.0v1.0h-1.0zM249.0 448.0h1.0v1.0h-1.0zM261.0 463.0h1.0v1.0h-1.0zM256.0 453.0h1.0v1.0h-1.0zM251.0 450.0h1.0v1.0h-1.0zM255.0 462.0h1.0v1.0h-1.0zM249.0 447.0h1.0v1.0h-1.0zM262.0 461.0h1.0v1.0h-1.0zM256.0 453.0h1.0v1.0h-1.0zM243.0 444.0h1.0v1.0h-1.0zM252.0 446.0h1.0v1.0h-1.0zM255.0 450.0h1.0v1.0h-1.0zM254.0 461.0h1.0v1.0h-1.0zM257.0 462.0h1.0v1.0h-1.0zM254.0 456.0h1.0v1.0h-1.0zM247.0 455.0h1.0v1.0h-1.0zM255.0 455.0h1.0v1.0h-1.0zM258.0 457.0h1.0v1.0h-1.0zM252.0 455.0h1.0v1.0h-1.0zM245.0 454.0h1.0v1.0h-1.0zM246.0 454.0h1.0v1.0h-1.0zM253.0 458.0h1.0v1.0h-1.0zM248.0 447.0h1.0v1.0h-1.0zM258.0 456.0h1.0v1.0h-1.0zM247.0 451.0h1.0v1.0h-1.0zM248.0 443.0h1.0v1.0h-1.0zM250.0 444.0h1.0v1.0h-1.0zM250.0 454.0h1.0v1.0h-1.0zM256.0 450.0h1.0v1.0h-1.0zM250.0 449.0h1.0v1.0h-1.0zM249.0 448.0h1.0v1.0h-1.0zM254.0 446.0h1.0v1.0h-1.0zM246.0 448.0h1.0v1.0h-1.0zM245.0 453.0h1.0v1.0h-1.0zM249.0 457.0h1.0v1.0h-1.0zM251.0 456.0h1.0v1.0h-1.0zM253.0 456.0h1.0v1.0h-1.0zM251.0 454.0h1.0v1.0h-1.0zM252.0 455.0h1.0v1.0h-1.0zM250.0 444.0h1.0v1.0h-1.0zM256.0 456.0h1.0v1.0h-1.0zM249.0 448.0h1.0v1.0h-1.0zM257.0 457.0h1.0v1.0h-1.0zM244.0 445.0h1.0v1.0h-1.0zM256.0 451.0h1.0v1.0h-1.0zM255.0 451.0h1.0v1.0h-1.0zM244.0 448.0h1.0v1.0h-1.0zM243.0 447.0h1.0v1.0h-1.0zM248.0 453.0h1.0v1.0h-1.0zM244.0 443.0h1.0v1.0h-1.0zM242.0 447.0h1.0v1.0h-1.0zM243.0 444.0h1.0v1.0h-1.0zM261.0 463.0h1.0v1.0h-1.0zM246.0 453.0h1.0v1.0h-1.0zM254.0 457.0h1.0v1.0h-1.0zM255.0 448.0h1.0v1.0h-1.0zM245.0 453.0h1.0v1.0h-1.0zM254.0 456.0h1.0v1.0h-1.0zM257.0 451.0h1.0v1.0h-1.0zM243.0 448.0h1.0v1.0h-1.0zM253.0 449.0h1.0v1.0h-1.0zM254.0 446.0h1.0v1.0h-1.0zM247.0 454.0h1.0v1.0h-1.0zM257.0 462.0h1.0v1.0h-1.0zM248.0 451.0h1.0v1.0h-1.0zM246.0 450.0h1.0v1.0h-1.0zM257.0 458.0h1.0v1.0h-1.0zM459.0 508.0h1.0v1.0h-1.0zM455.0 499.0h1.0v1.0h-1.0zM456.0 500.0h1.0v1.0h-1.0zM449.0 483.0h1.0v1.0h-1.0zM455.0 501.0h1.0v1.0h-1.0zM458.0 503.0h1.0v1.0h-1.0zM454.0 496.0h1.0v1.0h-1.0zM450.0 484.0h1.0v1.0h-1.0zM449.0 487.0h1.0v1.0h-1.0zM453.0 497.0h1.0v1.0h-1.0zM457.0 506.0h1.0v1.0h-1.0zM454.0 499.0h1.0v1.0h-1.0zM451.0 489.0h1.0v1.0h-1.0zM455.0 497.0h1.0v1.0h-1.0zM456.0 500.0h1.0v1.0h-1.0zM453.0 499.0h1.0v1.0h-1.0zM450.0 488.0h1.0v1.0h-1.0zM450.0 488.0h1.0v1.0h-1.0zM453.0 495.0h1.0v1.0h-1.0zM461.0 512.0h1.0v1.0h-1.0zM452.0 493.0h1.0v1.0h-1.0zM455.0 505.0h1.0v1.0h-1.0zM457.0 501.0h1.0v1.0h-1.0zM449.0 487.0h1.0v1.0h-1.0zM449.0 485.0h1.0v1.0h-1.0zM413.0 474.0h1.0v1.0h-1.0zM413.0 468.0h1.0v1.0h-1.0zM407.0 468.0h1.0v1.0h-1.0zM404.0 463.0h1.0v1.0h-1.0zM411.0 468.0h1.0v1.0h-1.0zM411.0 468.0h1.0v1.0h-1.0zM413.0 469.0h1.0v1.0h-1.0zM415.0 473.0h1.0v1.0h-1.0zM410.0 468.0h1.0v1.0h-1.0zM417.0 476.0h1.0v1.0h-1.0zM410.0 470.0h1.0v1.0h-1.0zM414.0 474.0h1.0v1.0h-1.0zM404.0 464.0h1.0v1.0h-1.0zM411.0 469.0h1.0v1.0h-1.0zM403.0 462.0h1.0v1.0h-1.0zM415.0 476.0h1.0v1.0h-1.0zM413.0 468.0h1.0v1.0h-1.0zM407.0 465.0h1.0v1.0h-1.0zM410.0 468.0h1.0v1.0h-1.0zM405.0 465.0h1.0v1.0h-1.0zM261.0 472.0h1.0v1.0h-1.0zM280.0 469.0h1.0v1.0h-1.0zM280.0 466.0h1.0v1.0h-1.0zM267.0 467.0h1.0v1.0h-1.0zM220.0 461.0h1.0v1.0h-1.0zM273.0 460.0h1.0v1.0h-1.0zM271.0 459.0h1.0v1.0h-1.0zM270.0 456.0h1.0v1.0h-1.0zM223.0 462.0h1.0v1.0h-1.0zM225.0 461.0h1.0v1.0h-1.0zM253.0 470.0h1.0v1.0h-1.0zM247.0 467.0h1.0v1.0h-1.0zM266.0 464.0h1.0v1.0h-1.0zM253.0 469.0h1.0v1.0h-1.0zM265.0 473.0h1.0v1.0h-1.0zM226.0 460.0h1.0v1.0h-1.0zM260.0 470.0h1.0v1.0h-1.0zM271.0 469.0h1.0v1.0h-1.0zM276.0 468.0h1.0v1.0h-1.0zM279.0 463.0h1.0v1.0h-1.0zM260.0 464.0h1.0v1.0h-1.0zM284.0 471.0h1.0v1.0h-1.0zM263.0 473.0h1.0v1.0h-1.0z"/>
<path fill="#FF6E00" d="M259.0 454.0h1.0v1.0h-1.0zM291.0 457.0h1.0v1.0h-1.0zM290.0 474.0h1.0v1.0h-1.0zM284.0 451.0h1.0v1.0h-1.0zM266.0 467.0h1.0v1.0h-1.0zM242.0 457.0h1.0v1.0h-1.0zM270.0 456.0h1.0v1.0h-1.0zM254.0 449.0h1.0v1.0h-1.0zM263.0 453.0h1.0v1.0h-1.0zM266.0 452.0h1.0v1.0h-1.0zM237.0 459.0h1.0v1.0h-1.0zM247.0 444.0h1.0v1.0h-1.0zM277.0 466.0h1.0v1.0h-1.0zM293.0 452.0h1.0v1.0h-1.0zM231.0 456.0h1.0v1.0h-1.0zM292.0 467.0h1.0v1.0h-1.0zM220.0 464.0h1.0v1.0h-1.0zM204.0 461.0h1.0v1.0h-1.0zM208.0 456.0h1.0v1.0h-1.0zM229.0 458.0h1.0v1.0h-1.0zM214.0 461.0h1.0v1.0h-1.0zM225.0 461.0h1.0v1.0h-1.0zM211.0 459.0h1.0v1.0h-1.0zM224.0 450.0h1.0v1.0h-1.0zM206.0 459.0h1.0v1.0h-1.0zM210.0 457.0h1.0v1.0h-1.0zM219.0 461.0h1.0v1.0h-1.0zM221.0 449.0h1.0v1.0h-1.0zM210.0 461.0h1.0v1.0h-1.0zM514.0 362.0h1.0v1.0h-1.0zM517.0 344.0h1.0v1.0h-1.0zM514.0 349.0h1.0v1.0h-1.0zM521.0 346.0h1.0v1.0h-1.0zM514.0 353.0h1.0v1.0h-1.0zM520.0 336.0h1.0v1.0h-1.0zM514.0 361.0h1.0v1.0h-1.0zM525.0 354.0h1.0v1.0h-1.0z"/>
<path fill="#FFFFFF" d="M260.0 465.0h1.0v1.0h-1.0zM262.0 458.0h1.0v1.0h-1.0zM222.0 464.0h1.0v1.0h-1.0zM237.0 455.0h1.0v1.0h-1.0zM245.0 466.0h1.0v1.0h-1.0zM295.0 461.0h1.0v1.0h-1.0zM205.0 462.0h1.0v1.0h-1.0zM259.0 461.0h1.0v1.0h-1.0zM247.0 454.0h1.0v1.0h-1.0zM281.0 466.0h1.0v1.0h-1.0zM208.0 463.0h1.0v1.0h-1.0zM233.0 463.0h1.0v1.0h-1.0zM259.0 449.0h1.0v1.0h-1.0zM243.0 447.0h1.0v1.0h-1.0zM134.0 514.0h1.0v1.0h-1.0zM141.0 539.0h1.0v1.0h-1.0zM136.0 540.0h1.0v1.0h-1.0zM139.0 544.0h1.0v1.0h-1.0zM137.0 519.0h1.0v1.0h-1.0zM138.0 516.0h1.0v1.0h-1.0zM136.0 531.0h1.0v1.0h-1.0zM140.0 532.0h1.0v1.0h-1.0zM140.0 543.0h1.0v1.0h-1.0zM133.0 549.0h1.0v1.0h-1.0zM134.0 549.0h1.0v1.0h-1.0zM136.0 511.0h1.0v1.0h-1.0zM139.0 514.0h1.0v1.0h-1.0zM140.0 516.0h1.0v1.0h-1.0zM144.0 535.0h1.0v1.0h-1.0zM205.0 461.0h1.0v1.0h-1.0zM226.0 462.0h1.0v1.0h-1.0zM247.0 466.0h1.0v1.0h-1.0zM271.0 470.0h1.0v1.0h-1.0zM212.0 457.0h1.0v1.0h-1.0zM262.0 467.0h1.0v1.0h-1.0zM258.0 472.0h1.0v1.0h-1.0zM262.0 465.0h1.0v1.0h-1.0zM216.0 459.0h1.0v1.0h-1.0zM259.0 465.0h1.0v1.0h-1.0zM209.0 460.0h1.0v1.0h-1.0zM212.0 460.0h1.0v1.0h-1.0zM271.0 472.0h1.0v1.0h-1.0zM278.0 465.0h1.0v1.0h-1.0zM259.0 468.0h1.0v1.0h-1.0zM280.0 470.0h1.0v1.0h-1.0zM290.0 472.0h1.0v1.0h-1.0zM225.0 461.0h1.0v1.0h-1.0zM269.0 470.0h1.0v1.0h-1.0zM295.0 476.0h1.0v1.0h-1.0zM266.0 457.0h1.0v1.0h-1.0zM270.0 470.0h1.0v1.0h-1.0zM278.0 462.0h1.0v1.0h-1.0zM224.0 462.0h1.0v1.0h-1.0zM278.0 462.0h1.0v1.0h-1.0zM273.0 464.0h1.0v1.0h-1.0zM271.0 456.0h1.0v1.0h-1.0zM232.0 465.0h1.0v1.0h-1.0zM272.0 456.0h1.0v1.0h-1.0zM290.0 474.0h1.0v1.0h-1.0zM286.0 473.0h1.0v1.0h-1.0zM269.0 458.0h1.0v1.0h-1.0zM262.0 468.0h1.0v1.0h-1.0zM224.0 460.0h1.0v1.0h-1.0zM250.0 466.0h1.0v1.0h-1.0zM228.0 461.0h1.0v1.0h-1.0zM281.0 470.0h1.0v1.0h-1.0zM216.0 459.0h1.0v1.0h-1.0zM223.0 463.0h1.0v1.0h-1.0zM271.0 467.0h1.0v1.0h-1.0zM210.0 459.0h1.0v1.0h-1.0zM269.0 459.0h1.0v1.0h-1.0zM204.0 461.0h1.0v1.0h-1.0zM265.0 472.0h1.0v1.0h-1.0zM284.0 467.0h1.0v1.0h-1.0zM266.0 457.0h1.0v1.0h-1.0zM278.0 460.0h1.0v1.0h-1.0zM210.0 457.0h1.0v1.0h-1.0zM276.0 470.0h1.0v1.0h-1.0zM258.0 471.0h1.0v1.0h-1.0zM265.0 472.0h1.0v1.0h-1.0zM261.0 472.0h1.0v1.0h-1.0zM271.0 458.0h1.0v1.0h-1.0zM291.0 475.0h1.0v1.0h-1.0zM282.0 468.0h1.0v1.0h-1.0zM270.0 460.0h1.0v1.0h-1.0zM279.0 468.0h1.0v1.0h-1.0zM273.0 464.0h1.0v1.0h-1.0zM275.0 471.0h1.0v1.0h-1.0zM277.0 466.0h1.0v1.0h-1.0zM281.0 468.0h1.0v1.0h-1.0zM272.0 465.0h1.0v1.0h-1.0zM277.0 460.0h1.0v1.0h-1.0z"/>
<path fill="#FFFFA0" d="M248.0 466.0h1.0v1.0h-1.0zM278.0 469.0h1.0v1.0h-1.0zM208.0 462.0h1.0v1.0h-1.0zM213.0 458.0h1.0v1.0h-1.0zM283.0 468.0h1.0v1.0h-1.0zM265.0 466.0h1.0v1.0h-1.0zM261.0 463.0h1.0v1.0h-1.0zM238.0 462.0h1.0v1.0h-1.0zM240.0 462.0h1.0v1.0h-1.0zM266.0 460.0h1.0v1.0h-1.0zM222.0 462.0h1.0v1.0h-1.0zM267.0 467.0h1.0v1.0h-1.0zM247.0 466.0h1.0v1.0h-1.0zM240.0 463.0h1.0v1.0h-1.0zM289.0 473.0h1.0v1.0h-1.0zM264.0 472.0h1.0v1.0h-1.0zM279.0 464.0h1.0v1.0h-1.0zM265.0 471.0h1.0v1.0h-1.0zM250.0 466.0h1.0v1.0h-1.0zM283.0 463.0h1.0v1.0h-1.0zM229.0 463.0h1.0v1.0h-1.0zM274.0 462.0h1.0v1.0h-1.0zM273.0 464.0h1.0v1.0h-1.0zM270.0 455.0h1.0v1.0h-1.0z"/>
</g>
<rect x="129.5" y="162.0" width="710.5" height="698.5" fill="none" stroke="#000" stroke-width="1"/>
<line x1="112.5" x2="129.5" y1="177.50" y2="177.50" stroke="#000" stroke-width="1"/>
<text transform="translate(99.80,185.80) scale(1,1.045)" font-size="23.0" text-anchor="end">45°N</text>
<line x1="112.5" x2="129.5" y1="271.12" y2="271.12" stroke="#000" stroke-width="1"/>
<text transform="translate(99.80,279.42) scale(1,1.045)" font-size="23.0" text-anchor="end">40°N</text>
<line x1="112.5" x2="129.5" y1="364.74" y2="364.74" stroke="#000" stroke-width="1"/>
<text transform="translate(99.80,373.04) scale(1,1.045)" font-size="23.0" text-anchor="end">35°N</text>
<line x1="112.5" x2="129.5" y1="458.36" y2="458.36" stroke="#000" stroke-width="1"/>
<text transform="translate(99.80,466.66) scale(1,1.045)" font-size="23.0" text-anchor="end">30°N</text>
<line x1="112.5" x2="129.5" y1="551.98" y2="551.98" stroke="#000" stroke-width="1"/>
<text transform="translate(99.80,560.28) scale(1,1.045)" font-size="23.0" text-anchor="end">25°N</text>
<line x1="112.5" x2="129.5" y1="645.60" y2="645.60" stroke="#000" stroke-width="1"/>
<text transform="translate(99.80,653.90) scale(1,1.045)" font-size="23.0" text-anchor="end">20°N</text>
<line x1="112.5" x2="129.5" y1="739.22" y2="739.22" stroke="#000" stroke-width="1"/>
<text transform="translate(99.80,747.52) scale(1,1.045)" font-size="23.0" text-anchor="end">15°N</text>
<line x1="112.5" x2="129.5" y1="832.84" y2="832.84" stroke="#000" stroke-width="1"/>
<text transform="translate(99.80,841.14) scale(1,1.045)" font-size="23.0" text-anchor="end">10°N</text>
<line y1="860.5" y2="876" x1="185.50" x2="185.50" stroke="#000" stroke-width="1"/>
<text transform="translate(185.50,910.60) scale(1,1.045)" font-size="23.0" text-anchor="middle">95°W</text>
<line y1="860.5" y2="876" x1="279.05" x2="279.05" stroke="#000" stroke-width="1"/>
<text transform="translate(279.05,910.60) scale(1,1.045)" font-size="23.0" text-anchor="middle">90°W</text>
<line y1="860.5" y2="876" x1="372.60" x2="372.60" stroke="#000" stroke-width="1"/>
<text transform="translate(372.60,910.60) scale(1,1.045)" font-size="23.0" text-anchor="middle">85°W</text>
<line y1="860.5" y2="876" x1="466.15" x2="466.15" stroke="#000" stroke-width="1"/>
<text transform="translate(466.15,910.60) scale(1,1.045)" font-size="23.0" text-anchor="middle">80°W</text>
<line y1="860.5" y2="876" x1="559.70" x2="559.70" stroke="#000" stroke-width="1"/>
<text transform="translate(559.70,910.60) scale(1,1.045)" font-size="23.0" text-anchor="middle">75°W</text>
<line y1="860.5" y2="876" x1="653.25" x2="653.25" stroke="#000" stroke-width="1"/>
<text transform="translate(653.25,910.60) scale(1,1.045)" font-size="23.0" text-anchor="middle">70°W</text>
<line y1="860.5" y2="876" x1="746.80" x2="746.80" stroke="#000" stroke-width="1"/>
<text transform="translate(746.80,910.60) scale(1,1.045)" font-size="23.0" text-anchor="middle">65°W</text>
<text transform="translate(484.30,944.60) scale(1,1.045)" font-size="22.9" text-anchor="middle">Longitude</text>
<text transform="translate(42.00,511.50) rotate(-90) scale(1,1.045)" font-size="22.9" text-anchor="middle">Latitude</text>
<text transform="translate(163.30,133.80) scale(1,1.045)" font-size="25.6" text-anchor="start">2021080317</text>
<text transform="translate(656.30,128.80) scale(1,1.045)" font-size="25.7" text-anchor="start">Elevation (m)</text>
<rect x="878.5" y="822.10" width="42.5" height="31.10" fill="#0000B7" stroke="#000" stroke-width="0.6"/>
<rect x="878.5" y="791.00" width="42.5" height="31.10" fill="#0000E4" stroke="#000" stroke-width="0.6"/>
<rect x="878.5" y="759.90" width="42.5" height="31.10" fill="#0013FF" stroke="#000" stroke-width="0.6"/>
<rect x="878.5" y="728.80" width="42.5" height="31.10" fill="#0040FF" stroke="#000" stroke-width="0.6"/>
<rect x="878.5" y="697.70" width="42.5" height="31.10" fill="#006EFF" stroke="#000" stroke-width="0.6"/>
<rect x="878.5" y="666.60" width="42.5" height="31.10" fill="#009BFF" stroke="#000" stroke-width="0.6"/>
<rect x="878.5" y="635.50" width="42.5" height="31.10" fill="#00C9FF" stroke="#000" stroke-width="0.6"/>
<rect x="878.5" y="604.40" width="42.5" height="31.10" fill="#00F6FF" stroke="#000" stroke-width="0.6"/>
<rect x="878.5" y="573.30" width="42.5" height="31.10" fill="#25FFDA" stroke="#000" stroke-width="0.6"/>
<rect x="878.5" y="542.20" width="42.5" height="31.10" fill="#52FFAD" stroke="#000" stroke-width="0.6"/>
<rect x="878.5" y="511.10" width="42.5" height="31.10" fill="#80FF80" stroke="#000" stroke-width="0.6"/>
<rect x="878.5" y="480.00" width="42.5" height="31.10" fill="#ADFF52" stroke="#000" stroke-width="0.6"/>
<rect x="878.5" y="448.90" width="42.5" height="31.10" fill="#DAFF25" stroke="#000" stroke-width="0.6"/>
<rect x="878.5" y="417.80" width="42.5" height="31.10" fill="#FFF600" stroke="#000" stroke-width="0.6"/>
<rect x="878.5" y="386.70" width="42.5" height="31.10" fill="#FFC900" stroke="#000" stroke-width="0.6"/>
<rect x="878.5" y="355.60" width="42.5" height="31.10" fill="#FF9B00" stroke="#000" stroke-width="0.6"/>
<rect x="878.5" y="324.50" width="42.5" height="31.10" fill="#FF6E00" stroke="#000" stroke-width="0.6"/>
<rect x="878.5" y="293.40" width="42.5" height="31.10" fill="#FF4000" stroke="#000" stroke-width="0.6"/>
<rect x="878.5" y="262.30" width="42.5" height="31.10" fill="#FF1300" stroke="#000" stroke-width="0.6"/>
<rect x="878.5" y="231.20" width="42.5" height="31.10" fill="#E40000" stroke="#000" stroke-width="0.6"/>
<rect x="878.5" y="200.10" width="42.5" height="31.10" fill="#B70000" stroke="#000" stroke-width="0.6"/>
<rect x="878.5" y="169.00" width="42.5" height="31.10" fill="#890000" stroke="#000" stroke-width="0.6"/>
<text transform="translate(960.00,833.90) scale(1,1.045)" font-size="32.0" text-anchor="middle">-2</text>
<text transform="translate(960.00,771.70) scale(1,1.045)" font-size="32.0" text-anchor="middle">-1.6</text>
<text transform="translate(960.00,709.50) scale(1,1.045)" font-size="32.0" text-anchor="middle">-1.2</text>
<text transform="translate(960.00,647.30) scale(1,1.045)" font-size="32.0" text-anchor="middle">-0.8</text>
<text transform="translate(960.00,585.10) scale(1,1.045)" font-size="32.0" text-anchor="middle">-0.4</text>
<text transform="translate(960.00,522.90) scale(1,1.045)" font-size="32.0" text-anchor="middle">0</text>
<text transform="translate(960.00,460.70) scale(1,1.045)" font-size="32.0" text-anchor="middle">0.4</text>
<text transform="translate(960.00,398.50) scale(1,1.045)" font-size="32.0" text-anchor="middle">0.8</text>
<text transform="translate(960.00,336.30) scale(1,1.045)" font-size="32.0" text-anchor="middle">1.2</text>
<text transform="translate(960.00,274.10) scale(1,1.045)" font-size="32.0" text-anchor="middle">1.6</text>
<text transform="translate(960.00,211.90) scale(1,1.045)" font-size="32.0" text-anchor="middle">2</text>
</svg></body></html>
